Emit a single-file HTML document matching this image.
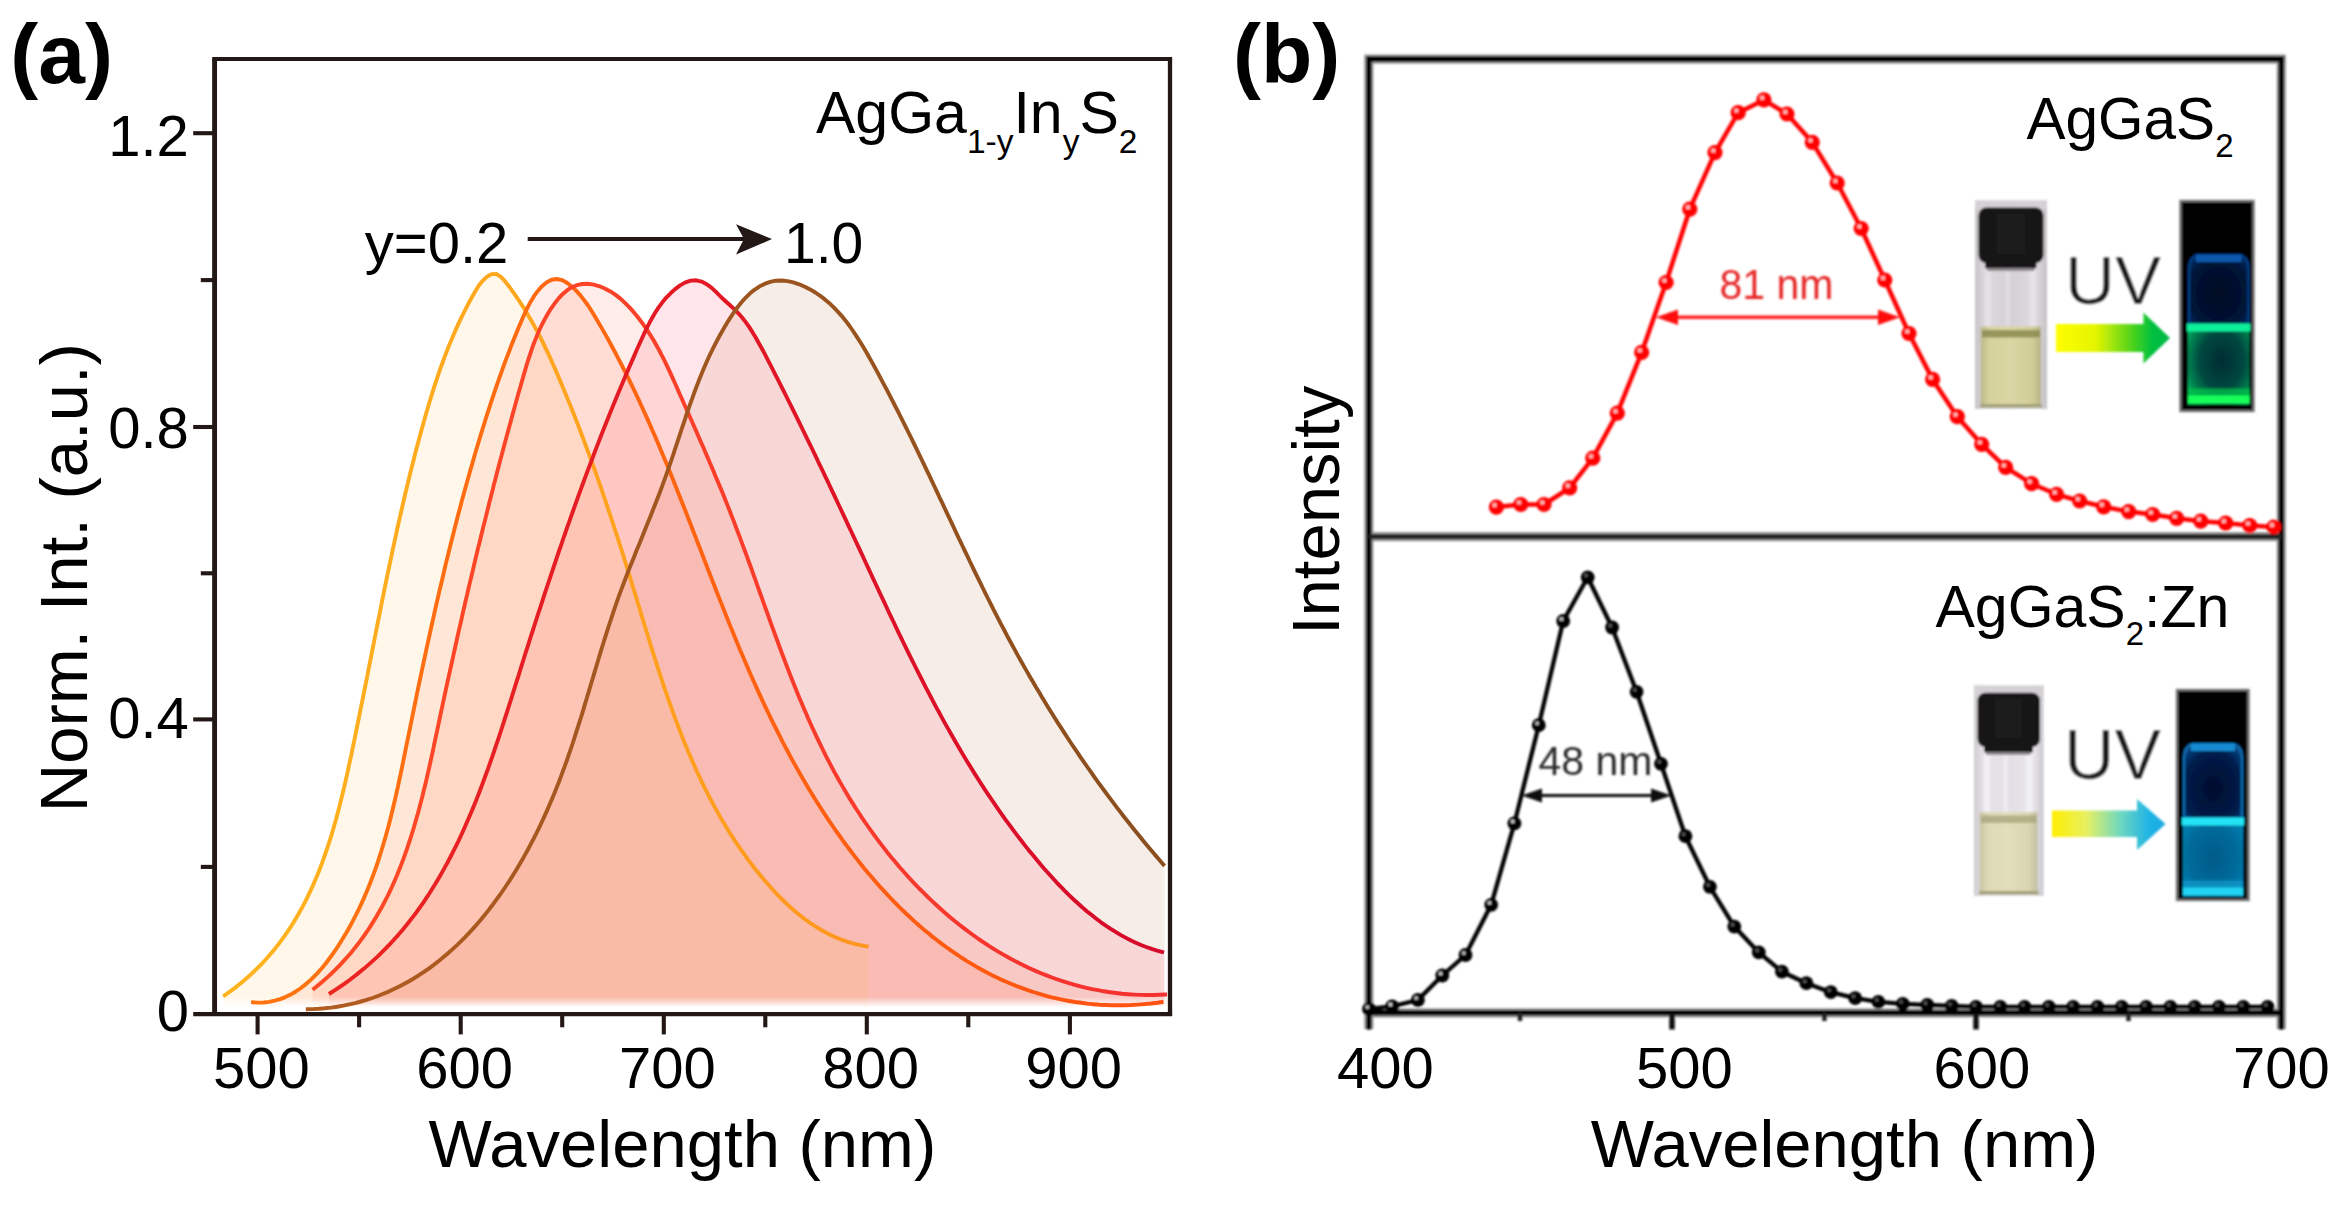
<!DOCTYPE html>
<html lang="en">
<head>
<meta charset="utf-8">
<title>Figure: PL spectra of AgGa(1-y)In(y)S2 and AgGaS2:Zn</title>
<style>
html,body{margin:0;padding:0;background:#fff;}
body{width:2352px;height:1205px;overflow:hidden;}
svg{display:block;}
text{font-family:"Liberation Sans", Arial, Helvetica, sans-serif;fill:#000;}
.b{font-weight:bold;}
.tr{fill:#e62828;}
.tk{fill:#2c2c2c;}
.tu{fill:#141414;stroke:#fff;stroke-width:0.5px;}
</style>
</head>
<body>
<svg width="2352" height="1205" viewBox="0 0 2352 1205">
<defs>
<linearGradient id="sg0" gradientUnits="userSpaceOnUse" x1="223" y1="0" x2="869" y2="0"><stop offset="0" stop-color="#FFB41E"/><stop offset="1" stop-color="#FF961E"/></linearGradient>
<linearGradient id="fg0" gradientUnits="userSpaceOnUse" x1="0" y1="250" x2="0" y2="1007"><stop offset="0" stop-color="#FFB73F" stop-opacity="0.109"/><stop offset="0.986" stop-color="#FFB73F" stop-opacity="0.109"/><stop offset="1" stop-color="#FFB73F" stop-opacity="0"/></linearGradient>
<linearGradient id="sg1" gradientUnits="userSpaceOnUse" x1="251" y1="0" x2="1164" y2="0"><stop offset="0" stop-color="#FF7410"/><stop offset="1" stop-color="#FF5212"/></linearGradient>
<linearGradient id="fg1" gradientUnits="userSpaceOnUse" x1="0" y1="250" x2="0" y2="1007"><stop offset="0" stop-color="#FF3000" stop-opacity="0.088"/><stop offset="0.986" stop-color="#FF3000" stop-opacity="0.088"/><stop offset="1" stop-color="#FF3000" stop-opacity="0"/></linearGradient>
<linearGradient id="sg2" gradientUnits="userSpaceOnUse" x1="313" y1="0" x2="1167" y2="0"><stop offset="0" stop-color="#FF4A24"/><stop offset="1" stop-color="#F53030"/></linearGradient>
<linearGradient id="fg2" gradientUnits="userSpaceOnUse" x1="0" y1="250" x2="0" y2="1007"><stop offset="0" stop-color="#FF2C00" stop-opacity="0.086"/><stop offset="0.986" stop-color="#FF2C00" stop-opacity="0.086"/><stop offset="1" stop-color="#FF2C00" stop-opacity="0"/></linearGradient>
<linearGradient id="sg3" gradientUnits="userSpaceOnUse" x1="329" y1="0" x2="1164" y2="0"><stop offset="0" stop-color="#EC2420"/><stop offset="1" stop-color="#D60A2A"/></linearGradient>
<linearGradient id="fg3" gradientUnits="userSpaceOnUse" x1="0" y1="250" x2="0" y2="1007"><stop offset="0" stop-color="#FF778E" stop-opacity="0.187"/><stop offset="0.986" stop-color="#FF778E" stop-opacity="0.187"/><stop offset="1" stop-color="#FF778E" stop-opacity="0"/></linearGradient>
<linearGradient id="sg4" gradientUnits="userSpaceOnUse" x1="306" y1="0" x2="1165" y2="0"><stop offset="0" stop-color="#B25C20"/><stop offset="1" stop-color="#8A4E1E"/></linearGradient>
<linearGradient id="fg4" gradientUnits="userSpaceOnUse" x1="0" y1="250" x2="0" y2="1007"><stop offset="0" stop-color="#D9AD93" stop-opacity="0.219"/><stop offset="0.986" stop-color="#D9AD93" stop-opacity="0.219"/><stop offset="1" stop-color="#D9AD93" stop-opacity="0"/></linearGradient>
<linearGradient id="arrG" x1="0" y1="0" x2="1" y2="0"><stop offset="0" stop-color="#ffff00"/><stop offset="0.35" stop-color="#e4f400"/><stop offset="0.7" stop-color="#40d020"/><stop offset="0.85" stop-color="#00c040"/><stop offset="1" stop-color="#00b848"/></linearGradient>
<linearGradient id="arrC" x1="0" y1="0" x2="1" y2="0"><stop offset="0" stop-color="#ffee00"/><stop offset="0.3" stop-color="#e8f060"/><stop offset="0.6" stop-color="#70d8c0"/><stop offset="0.85" stop-color="#20b4e4"/><stop offset="1" stop-color="#18a8e0"/></linearGradient>
<linearGradient id="glass" x1="0" y1="0" x2="1" y2="0"><stop offset="0" stop-color="#c8c4c8"/><stop offset="0.15" stop-color="#dcd8dc"/><stop offset="0.5" stop-color="#d4d0d6"/><stop offset="0.85" stop-color="#dedade"/><stop offset="1" stop-color="#c4c0c4"/></linearGradient>
<linearGradient id="glass2" x1="0" y1="0" x2="1" y2="0"><stop offset="0" stop-color="#cfcbd0"/><stop offset="0.14" stop-color="#e6e3e8"/><stop offset="0.5" stop-color="#e2dfe5"/><stop offset="0.86" stop-color="#e8e5ea"/><stop offset="1" stop-color="#cac6cc"/></linearGradient>
<linearGradient id="liqY" x1="0" y1="0" x2="1" y2="0"><stop offset="0" stop-color="#bdb98c"/><stop offset="0.15" stop-color="#d6d29c"/><stop offset="0.5" stop-color="#dad6a4"/><stop offset="0.85" stop-color="#d2ce98"/><stop offset="1" stop-color="#b8b488"/></linearGradient>
<linearGradient id="liqY2" x1="0" y1="0" x2="1" y2="0"><stop offset="0" stop-color="#c8c4a4"/><stop offset="0.15" stop-color="#dedab8"/><stop offset="0.5" stop-color="#e2debc"/><stop offset="0.85" stop-color="#dad6b2"/><stop offset="1" stop-color="#c2be9e"/></linearGradient>
<radialGradient id="liqG" cx="0.55" cy="0.45" r="0.65"><stop offset="0" stop-color="#002c34"/><stop offset="0.55" stop-color="#004840"/><stop offset="0.85" stop-color="#008450"/><stop offset="1" stop-color="#00b060"/></radialGradient>
<radialGradient id="liqB" cx="0.5" cy="0.5" r="0.7"><stop offset="0" stop-color="#005a88"/><stop offset="0.6" stop-color="#006c9c"/><stop offset="1" stop-color="#0088b8"/></radialGradient>
<radialGradient id="topB" cx="0.5" cy="0.55" r="0.7"><stop offset="0" stop-color="#010820"/><stop offset="0.7" stop-color="#021438"/><stop offset="1" stop-color="#063068"/></radialGradient>
<radialGradient id="topB2" cx="0.5" cy="0.6" r="0.7"><stop offset="0" stop-color="#020c2c"/><stop offset="0.7" stop-color="#031c4c"/><stop offset="1" stop-color="#084888"/></radialGradient>
<filter id="soft" x="-2%" y="-2%" width="104%" height="104%"><feGaussianBlur stdDeviation="0.8"/></filter>
<filter id="soft2" x="-5%" y="-5%" width="110%" height="110%"><feGaussianBlur stdDeviation="1.3"/></filter>
<clipPath id="clipA"><rect x="216.7" y="61" width="951.2" height="951"/></clipPath>
</defs>
<rect x="0" y="0" width="2352" height="1205" fill="#ffffff"/>
<g id="panel-a">
<g clip-path="url(#clipA)">
<path d="M305.8,1009.3 L312.3,1009.1 L318.7,1008.8 L324.9,1008.3 L331.1,1007.6 L337.3,1006.7 L343.3,1005.7 L349.3,1004.4 L355.1,1003.1 L360.9,1001.5 L366.6,999.8 L372.3,998.0 L377.8,996.0 L383.3,993.8 L388.7,991.6 L394.0,989.1 L399.2,986.5 L404.4,983.8 L409.5,981.0 L414.5,978.0 L419.4,974.9 L424.3,971.7 L429.1,968.3 L433.8,964.9 L438.4,961.3 L442.9,957.6 L447.4,953.8 L451.8,949.9 L456.2,945.9 L460.4,941.8 L464.6,937.6 L468.7,933.3 L472.8,928.9 L476.7,924.5 L480.6,919.9 L484.5,915.3 L488.2,910.6 L491.9,905.8 L495.5,900.9 L499.1,896.0 L502.6,891.0 L506.0,886.0 L509.4,880.9 L512.6,875.7 L515.9,870.5 L519.0,865.2 L522.1,859.9 L525.1,854.6 L528.1,849.2 L531.0,843.7 L533.8,838.3 L536.6,832.8 L539.3,827.3 L541.9,821.7 L544.5,816.2 L547.0,810.6 L549.4,805.0 L551.8,799.4 L554.2,793.8 L556.4,788.1 L558.7,782.5 L560.8,776.9 L562.9,771.2 L565.0,765.6 L567.0,760.0 L568.9,754.3 L570.9,748.7 L572.8,743.0 L574.6,737.4 L576.4,731.7 L578.2,726.1 L580.0,720.4 L581.8,714.8 L583.5,709.1 L585.2,703.4 L586.9,697.8 L588.6,692.1 L590.3,686.4 L592.0,680.7 L593.7,675.1 L595.4,669.4 L597.1,663.7 L598.8,658.0 L600.5,652.4 L602.2,646.7 L604.0,641.0 L605.8,635.3 L607.6,629.6 L609.4,624.0 L611.3,618.3 L613.2,612.6 L615.1,606.9 L617.1,601.2 L619.1,595.5 L621.2,589.8 L623.3,584.2 L625.5,578.5 L627.7,572.8 L629.9,567.1 L632.2,561.4 L634.5,555.7 L636.7,550.0 L639.1,544.4 L641.4,538.7 L643.7,533.0 L646.0,527.3 L648.3,521.6 L650.6,515.9 L652.8,510.3 L655.1,504.6 L657.3,498.9 L659.5,493.2 L661.6,487.6 L663.7,481.9 L665.8,476.2 L667.8,470.5 L669.7,464.9 L671.7,459.2 L673.6,453.6 L675.4,447.9 L677.3,442.3 L679.2,436.6 L681.0,431.0 L682.9,425.4 L684.8,419.8 L686.6,414.2 L688.6,408.7 L690.5,403.1 L692.5,397.6 L694.5,392.0 L696.6,386.5 L698.7,381.0 L700.9,375.6 L703.1,370.1 L705.4,364.7 L707.8,359.3 L710.3,353.9 L712.9,348.6 L715.6,343.3 L718.4,338.0 L721.3,332.7 L724.3,327.5 L727.4,322.3 L730.7,317.1 L734.1,312.0 L737.7,307.0 L741.5,302.3 L745.5,297.8 L749.8,293.6 L754.4,289.8 L759.3,286.6 L764.5,283.9 L770.1,281.9 L775.8,280.7 L781.6,280.5 L787.5,281.1 L793.4,282.4 L799.2,284.3 L804.8,286.7 L810.2,289.4 L815.3,292.5 L820.2,295.8 L824.9,299.4 L829.4,303.2 L833.7,307.3 L837.8,311.6 L841.8,316.1 L845.6,320.7 L849.2,325.5 L852.7,330.5 L856.1,335.6 L859.4,340.7 L862.7,346.0 L865.8,351.3 L868.9,356.7 L871.9,362.1 L874.9,367.5 L877.8,372.9 L880.7,378.4 L883.6,383.8 L886.5,389.2 L889.3,394.6 L892.1,400.0 L894.9,405.5 L897.7,410.9 L900.4,416.3 L903.1,421.7 L905.8,427.1 L908.5,432.5 L911.2,437.9 L913.8,443.3 L916.4,448.7 L919.0,454.1 L921.6,459.5 L924.2,464.9 L926.8,470.3 L929.4,475.7 L931.9,481.1 L934.5,486.5 L937.0,491.9 L939.5,497.3 L942.1,502.6 L944.6,508.0 L947.1,513.4 L949.6,518.7 L952.2,524.1 L954.7,529.5 L957.2,534.8 L959.7,540.2 L962.3,545.5 L964.8,550.8 L967.4,556.1 L969.9,561.5 L972.5,566.8 L975.0,572.1 L977.6,577.4 L980.2,582.7 L982.8,588.0 L985.4,593.3 L988.0,598.5 L990.7,603.8 L993.3,609.1 L996.0,614.3 L998.7,619.6 L1001.4,624.8 L1004.2,630.0 L1006.9,635.3 L1009.7,640.5 L1012.5,645.7 L1015.4,650.9 L1018.2,656.1 L1021.1,661.2 L1024.0,666.4 L1027.0,671.6 L1029.9,676.7 L1032.9,681.8 L1035.9,687.0 L1039.0,692.1 L1042.0,697.2 L1045.1,702.3 L1048.2,707.4 L1051.4,712.5 L1054.5,717.5 L1057.7,722.6 L1061.0,727.6 L1064.2,732.6 L1067.5,737.7 L1070.8,742.7 L1074.1,747.7 L1077.5,752.6 L1080.8,757.6 L1084.3,762.6 L1087.7,767.5 L1091.2,772.4 L1094.6,777.3 L1098.2,782.3 L1101.7,787.1 L1105.3,792.0 L1108.9,796.9 L1112.5,801.7 L1116.2,806.6 L1119.9,811.4 L1123.6,816.2 L1127.4,821.0 L1131.1,825.7 L1134.9,830.5 L1138.8,835.2 L1142.6,840.0 L1146.5,844.7 L1150.5,849.4 L1154.4,854.1 L1158.4,858.7 L1162.4,863.4 L1164.6,865.9 L1164.6,1008.5 L305.8,1008.5 Z" fill="url(#fg4)" stroke="none"/>
<path d="M328.9,994.0 L334.2,990.6 L339.5,987.1 L344.6,983.6 L349.6,980.0 L354.5,976.2 L359.3,972.4 L364.0,968.6 L368.6,964.6 L373.1,960.6 L377.5,956.6 L381.8,952.4 L386.0,948.2 L390.1,943.9 L394.1,939.5 L398.1,935.1 L401.9,930.7 L405.7,926.1 L409.3,921.5 L412.9,916.9 L416.5,912.2 L419.9,907.4 L423.3,902.6 L426.6,897.7 L429.8,892.8 L432.9,887.8 L436.0,882.8 L439.0,877.7 L441.9,872.6 L444.8,867.4 L447.7,862.2 L450.4,857.0 L453.1,851.7 L455.8,846.4 L458.4,841.1 L460.9,835.7 L463.4,830.2 L465.8,824.8 L468.2,819.3 L470.6,813.8 L472.9,808.2 L475.2,802.7 L477.4,797.1 L479.6,791.5 L481.7,785.8 L483.8,780.2 L485.9,774.5 L488.0,768.8 L490.0,763.1 L492.0,757.3 L494.0,751.6 L495.9,745.8 L497.9,740.1 L499.8,734.3 L501.7,728.5 L503.6,722.7 L505.4,716.9 L507.3,711.1 L509.1,705.3 L511.0,699.5 L512.8,693.7 L514.6,687.9 L516.4,682.1 L518.3,676.3 L520.1,670.5 L521.9,664.7 L523.7,659.0 L525.5,653.2 L527.4,647.4 L529.2,641.7 L531.0,635.9 L532.9,630.2 L534.7,624.5 L536.6,618.7 L538.4,613.0 L540.3,607.3 L542.2,601.6 L544.0,595.9 L545.9,590.2 L547.8,584.5 L549.7,578.8 L551.6,573.1 L553.5,567.5 L555.4,561.8 L557.3,556.1 L559.2,550.5 L561.2,544.8 L563.1,539.2 L565.1,533.5 L567.0,527.9 L569.0,522.3 L571.0,516.6 L573.0,511.0 L575.0,505.4 L577.0,499.8 L579.0,494.2 L581.1,488.6 L583.1,483.0 L585.2,477.4 L587.3,471.8 L589.4,466.2 L591.5,460.7 L593.6,455.1 L595.7,449.5 L597.9,443.9 L600.0,438.4 L602.2,432.8 L604.4,427.3 L606.6,421.7 L608.8,416.2 L611.1,410.6 L613.3,405.1 L615.6,399.5 L617.9,394.0 L620.2,388.5 L622.5,382.9 L624.8,377.4 L627.2,371.9 L629.6,366.4 L632.0,360.9 L634.4,355.4 L636.8,349.8 L639.3,344.3 L641.8,338.8 L644.3,333.3 L646.9,327.9 L649.6,322.5 L652.5,317.3 L655.5,312.1 L658.8,307.1 L662.4,302.3 L666.3,297.6 L670.5,293.3 L675.1,289.1 L680.1,285.4 L685.4,282.4 L690.8,280.6 L696.2,280.3 L701.6,281.6 L706.8,284.3 L711.7,287.9 L716.2,292.1 L720.5,296.5 L725.0,300.7 L729.5,304.8 L734.0,308.9 L738.2,313.1 L742.1,317.5 L745.7,322.1 L749.1,326.9 L752.3,331.9 L755.4,337.0 L758.3,342.2 L761.3,347.5 L764.2,352.9 L767.0,358.3 L769.9,363.8 L772.7,369.3 L775.4,374.8 L778.2,380.2 L780.9,385.7 L783.7,391.1 L786.4,396.5 L789.1,402.0 L791.8,407.4 L794.5,412.8 L797.1,418.2 L799.8,423.6 L802.4,429.0 L805.0,434.4 L807.7,439.8 L810.3,445.1 L812.9,450.5 L815.5,455.9 L818.0,461.3 L820.6,466.6 L823.2,472.0 L825.7,477.4 L828.3,482.7 L830.8,488.1 L833.3,493.4 L835.9,498.8 L838.4,504.2 L840.9,509.5 L843.4,514.9 L845.9,520.2 L848.4,525.6 L851.0,531.0 L853.5,536.3 L856.0,541.7 L858.5,547.1 L861.0,552.4 L863.5,557.8 L866.0,563.2 L868.5,568.6 L871.0,574.0 L873.5,579.3 L876.0,584.7 L878.5,590.1 L881.0,595.5 L883.6,600.9 L886.1,606.3 L888.6,611.7 L891.2,617.1 L893.8,622.5 L896.3,627.9 L898.9,633.3 L901.5,638.6 L904.1,644.0 L906.7,649.4 L909.4,654.8 L912.0,660.1 L914.7,665.5 L917.4,670.8 L920.1,676.2 L922.8,681.5 L925.5,686.8 L928.3,692.2 L931.1,697.5 L933.9,702.8 L936.7,708.1 L939.6,713.3 L942.4,718.6 L945.3,723.9 L948.3,729.1 L951.2,734.3 L954.2,739.5 L957.2,744.7 L960.3,749.9 L963.3,755.1 L966.4,760.3 L969.6,765.4 L972.7,770.5 L975.9,775.6 L979.2,780.7 L982.4,785.8 L985.7,790.9 L989.1,795.9 L992.5,800.9 L995.9,805.9 L999.3,810.9 L1002.8,815.8 L1006.4,820.8 L1010.0,825.7 L1013.6,830.6 L1017.2,835.4 L1021.0,840.3 L1024.7,845.1 L1028.5,849.9 L1032.4,854.6 L1036.3,859.3 L1040.2,864.0 L1044.2,868.7 L1048.3,873.3 L1052.4,877.8 L1056.5,882.3 L1060.7,886.7 L1065.0,891.1 L1069.3,895.3 L1073.6,899.5 L1078.1,903.5 L1082.5,907.5 L1087.1,911.4 L1091.7,915.1 L1096.3,918.7 L1101.0,922.3 L1105.8,925.6 L1110.7,928.8 L1115.6,931.9 L1120.5,934.9 L1125.5,937.6 L1130.6,940.3 L1135.8,942.7 L1141.0,945.0 L1146.3,947.0 L1151.7,948.9 L1157.1,950.6 L1162.6,952.1 L1164.0,952.5 L1164.0,1008.5 L328.9,1008.5 Z" fill="url(#fg3)" stroke="none"/>
<path d="M312.6,989.7 L317.5,985.8 L322.3,981.8 L327.0,977.6 L331.5,973.5 L335.9,969.2 L340.1,964.9 L344.2,960.4 L348.2,956.0 L352.1,951.4 L355.8,946.8 L359.4,942.1 L362.9,937.3 L366.3,932.5 L369.6,927.6 L372.7,922.6 L375.8,917.6 L378.7,912.6 L381.6,907.5 L384.3,902.3 L387.0,897.1 L389.6,891.8 L392.1,886.5 L394.5,881.1 L396.8,875.7 L399.0,870.2 L401.2,864.7 L403.3,859.2 L405.3,853.6 L407.3,848.0 L409.1,842.3 L411.0,836.7 L412.8,831.0 L414.5,825.2 L416.1,819.5 L417.8,813.7 L419.3,807.9 L420.9,802.0 L422.4,796.2 L423.8,790.3 L425.3,784.4 L426.7,778.5 L428.0,772.6 L429.4,766.7 L430.7,760.7 L432.0,754.8 L433.3,748.8 L434.5,742.9 L435.8,736.9 L437.1,730.9 L438.3,725.0 L439.6,719.0 L440.8,713.1 L442.1,707.1 L443.4,701.2 L444.6,695.3 L445.9,689.3 L447.2,683.4 L448.5,677.5 L449.8,671.6 L451.1,665.7 L452.4,659.8 L453.7,653.9 L455.0,648.0 L456.3,642.1 L457.6,636.2 L458.9,630.3 L460.3,624.4 L461.6,618.6 L462.9,612.7 L464.3,606.8 L465.6,601.0 L467.0,595.1 L468.3,589.3 L469.7,583.4 L471.1,577.6 L472.5,571.8 L473.8,565.9 L475.2,560.1 L476.6,554.3 L478.0,548.4 L479.5,542.6 L480.9,536.8 L482.3,531.0 L483.7,525.2 L485.2,519.4 L486.6,513.6 L488.1,507.8 L489.5,502.0 L491.0,496.2 L492.5,490.4 L493.9,484.6 L495.4,478.9 L496.9,473.1 L498.4,467.3 L499.9,461.5 L501.5,455.8 L503.0,450.0 L504.5,444.2 L506.1,438.5 L507.6,432.7 L509.2,427.0 L510.8,421.2 L512.3,415.5 L513.9,409.7 L515.5,404.0 L517.1,398.2 L518.7,392.5 L520.4,386.8 L522.0,381.0 L523.6,375.3 L525.3,369.6 L527.0,363.8 L528.8,358.1 L530.7,352.5 L532.6,346.8 L534.7,341.2 L537.0,335.6 L539.4,330.0 L542.0,324.5 L544.8,319.1 L547.8,313.8 L551.0,308.6 L554.6,303.5 L558.4,298.6 L562.5,294.2 L566.9,290.4 L571.6,287.4 L576.8,285.2 L582.2,284.0 L588.0,283.8 L593.8,284.6 L599.6,286.3 L605.3,288.7 L610.8,291.7 L615.9,295.1 L620.7,298.9 L625.2,303.1 L629.5,307.4 L633.5,311.9 L637.3,316.5 L640.9,321.2 L644.3,325.9 L647.6,330.7 L650.7,335.6 L653.7,340.5 L656.5,345.5 L659.3,350.5 L661.9,355.6 L664.5,360.7 L667.0,365.9 L669.5,371.1 L671.9,376.4 L674.3,381.7 L676.7,387.0 L679.0,392.4 L681.4,397.8 L683.8,403.2 L686.3,408.7 L688.7,414.2 L691.2,419.8 L693.6,425.3 L696.1,430.9 L698.5,436.5 L701.0,442.2 L703.5,447.8 L705.9,453.5 L708.4,459.2 L710.8,464.9 L713.2,470.6 L715.6,476.4 L718.0,482.1 L720.4,487.8 L722.8,493.6 L725.1,499.3 L727.4,505.1 L729.7,510.8 L731.9,516.6 L734.2,522.3 L736.3,528.1 L738.5,533.8 L740.7,539.6 L742.8,545.3 L744.9,551.0 L747.0,556.7 L749.1,562.5 L751.2,568.2 L753.2,573.9 L755.3,579.6 L757.3,585.3 L759.3,591.0 L761.4,596.7 L763.4,602.3 L765.4,608.0 L767.5,613.7 L769.5,619.3 L771.5,624.9 L773.6,630.6 L775.6,636.2 L777.7,641.8 L779.7,647.4 L781.8,653.0 L783.9,658.5 L786.0,664.1 L788.2,669.7 L790.3,675.2 L792.5,680.7 L794.7,686.2 L796.9,691.7 L799.1,697.2 L801.4,702.6 L803.7,708.1 L806.1,713.5 L808.4,718.9 L810.8,724.3 L813.3,729.7 L815.8,735.1 L818.3,740.4 L820.9,745.7 L823.5,751.0 L826.1,756.3 L828.9,761.6 L831.6,766.8 L834.4,772.1 L837.3,777.3 L840.2,782.4 L843.2,787.6 L846.2,792.7 L849.3,797.9 L852.4,802.9 L855.6,808.0 L858.9,813.0 L862.2,818.1 L865.6,823.0 L869.1,828.0 L872.6,832.9 L876.2,837.8 L879.8,842.6 L883.5,847.4 L887.2,852.2 L891.0,856.9 L894.9,861.5 L898.8,866.2 L902.8,870.7 L906.8,875.2 L910.9,879.7 L915.0,884.1 L919.2,888.5 L923.5,892.7 L927.8,897.0 L932.1,901.1 L936.6,905.3 L941.0,909.3 L945.5,913.3 L950.1,917.2 L954.7,921.0 L959.4,924.7 L964.1,928.4 L968.9,932.0 L973.7,935.5 L978.6,939.0 L983.6,942.3 L988.5,945.6 L993.6,948.8 L998.6,951.9 L1003.8,954.9 L1008.9,957.8 L1014.2,960.6 L1019.4,963.3 L1024.8,965.9 L1030.1,968.5 L1035.5,970.9 L1041.0,973.2 L1046.5,975.4 L1052.0,977.5 L1057.6,979.5 L1063.3,981.4 L1069.0,983.2 L1074.7,984.8 L1080.5,986.4 L1086.3,987.8 L1092.1,989.1 L1098.0,990.2 L1104.0,991.3 L1110.0,992.2 L1116.0,993.0 L1122.1,993.7 L1128.2,994.2 L1134.3,994.6 L1140.5,994.9 L1146.8,995.0 L1153.0,995.0 L1159.4,994.8 L1165.7,994.5 L1167.1,994.5 L1167.1,1008.5 L312.6,1008.5 Z" fill="url(#fg2)" stroke="none"/>
<path d="M251.1,1002.1 L257.3,1002.6 L263.3,1002.5 L269.1,1001.9 L274.7,1000.7 L280.2,999.1 L285.4,997.1 L290.6,994.6 L295.5,991.7 L300.3,988.5 L304.9,984.9 L309.4,981.1 L313.7,976.9 L317.9,972.6 L322.0,968.0 L325.9,963.2 L329.6,958.3 L333.3,953.2 L336.8,948.1 L340.2,942.8 L343.4,937.6 L346.6,932.3 L349.6,927.0 L352.5,921.6 L355.3,916.2 L358.0,910.8 L360.6,905.4 L363.1,899.9 L365.5,894.4 L367.8,888.9 L370.1,883.3 L372.2,877.7 L374.3,872.1 L376.3,866.5 L378.2,860.8 L380.0,855.2 L381.8,849.5 L383.5,843.8 L385.2,838.0 L386.8,832.3 L388.4,826.5 L389.9,820.8 L391.3,815.0 L392.7,809.2 L394.1,803.3 L395.5,797.5 L396.8,791.7 L398.1,785.8 L399.3,780.0 L400.6,774.1 L401.8,768.3 L403.0,762.4 L404.2,756.5 L405.4,750.6 L406.6,744.7 L407.8,738.8 L409.0,733.0 L410.2,727.1 L411.4,721.2 L412.6,715.3 L413.8,709.4 L415.0,703.5 L416.2,697.6 L417.4,691.7 L418.6,685.9 L419.9,680.0 L421.1,674.1 L422.4,668.2 L423.6,662.3 L424.9,656.4 L426.1,650.6 L427.4,644.7 L428.7,638.8 L430.0,632.9 L431.3,627.0 L432.6,621.2 L433.9,615.3 L435.2,609.4 L436.5,603.6 L437.9,597.7 L439.2,591.9 L440.6,586.0 L442.0,580.2 L443.4,574.3 L444.7,568.5 L446.1,562.6 L447.6,556.8 L449.0,551.0 L450.4,545.2 L451.9,539.3 L453.4,533.5 L454.8,527.7 L456.3,521.9 L457.8,516.1 L459.4,510.3 L460.9,504.5 L462.4,498.7 L464.0,493.0 L465.6,487.2 L467.2,481.4 L468.8,475.7 L470.4,469.9 L472.1,464.2 L473.7,458.4 L475.4,452.7 L477.1,447.0 L478.8,441.3 L480.5,435.6 L482.3,429.9 L484.1,424.2 L485.8,418.5 L487.6,412.8 L489.5,407.2 L491.3,401.5 L493.2,395.9 L495.1,390.2 L497.0,384.6 L499.0,379.0 L501.0,373.3 L503.0,367.7 L505.0,362.1 L507.1,356.6 L509.3,351.0 L511.4,345.4 L513.6,339.8 L515.9,334.3 L518.1,328.7 L520.5,323.2 L522.8,317.7 L525.3,312.2 L527.9,306.8 L530.8,301.4 L534.0,296.2 L537.6,291.2 L541.7,286.4 L546.4,282.5 L551.5,279.8 L557.0,279.0 L562.3,280.1 L567.3,283.0 L572.0,286.7 L576.4,290.9 L580.4,295.4 L584.1,300.1 L587.7,305.0 L591.0,310.0 L594.2,315.2 L597.3,320.4 L600.3,325.6 L603.3,330.9 L606.3,336.1 L609.2,341.4 L612.1,346.7 L614.9,352.0 L617.7,357.3 L620.5,362.7 L623.2,368.0 L625.9,373.4 L628.6,378.7 L631.2,384.1 L633.8,389.5 L636.4,394.9 L638.9,400.3 L641.4,405.8 L643.9,411.2 L646.4,416.6 L648.8,422.1 L651.2,427.6 L653.6,433.0 L656.0,438.5 L658.3,444.0 L660.6,449.5 L662.9,455.0 L665.2,460.5 L667.5,466.0 L669.7,471.5 L672.0,477.1 L674.2,482.6 L676.4,488.1 L678.6,493.7 L680.8,499.2 L683.0,504.8 L685.2,510.3 L687.3,515.9 L689.5,521.5 L691.7,527.0 L693.8,532.6 L696.0,538.1 L698.1,543.7 L700.3,549.3 L702.4,554.8 L704.5,560.4 L706.7,566.0 L708.8,571.5 L711.0,577.1 L713.2,582.7 L715.3,588.2 L717.5,593.8 L719.7,599.4 L721.9,604.9 L724.1,610.5 L726.3,616.0 L728.5,621.6 L730.7,627.1 L733.0,632.6 L735.3,638.2 L737.5,643.7 L739.8,649.2 L742.2,654.7 L744.5,660.2 L746.9,665.7 L749.2,671.2 L751.6,676.7 L754.1,682.2 L756.5,687.6 L759.0,693.1 L761.5,698.6 L764.0,704.0 L766.6,709.4 L769.2,714.8 L771.8,720.3 L774.5,725.7 L777.2,731.0 L779.9,736.4 L782.6,741.8 L785.4,747.1 L788.3,752.5 L791.1,757.8 L794.0,763.1 L797.0,768.4 L800.0,773.7 L803.0,779.0 L806.1,784.2 L809.2,789.5 L812.4,794.7 L815.6,799.9 L818.8,805.0 L822.1,810.2 L825.5,815.3 L828.8,820.4 L832.3,825.5 L835.7,830.5 L839.3,835.5 L842.8,840.5 L846.4,845.4 L850.1,850.3 L853.8,855.1 L857.5,859.9 L861.3,864.7 L865.1,869.4 L869.0,874.0 L872.9,878.6 L876.9,883.2 L880.9,887.7 L885.0,892.1 L889.1,896.5 L893.2,900.9 L897.4,905.1 L901.7,909.3 L906.0,913.5 L910.3,917.5 L914.7,921.6 L919.1,925.5 L923.6,929.4 L928.2,933.1 L932.7,936.9 L937.4,940.5 L942.1,944.1 L946.8,947.5 L951.6,950.9 L956.4,954.2 L961.3,957.5 L966.2,960.6 L971.2,963.6 L976.2,966.6 L981.3,969.5 L986.4,972.2 L991.5,974.9 L996.8,977.5 L1002.0,979.9 L1007.4,982.3 L1012.7,984.5 L1018.2,986.7 L1023.6,988.7 L1029.2,990.7 L1034.8,992.5 L1040.4,994.2 L1046.1,995.8 L1051.8,997.3 L1057.6,998.6 L1063.4,999.9 L1069.3,1001.0 L1075.3,1002.0 L1081.3,1002.8 L1087.3,1003.6 L1093.4,1004.2 L1099.6,1004.7 L1105.8,1005.0 L1112.0,1005.2 L1118.3,1005.3 L1124.7,1005.2 L1131.1,1005.0 L1137.6,1004.6 L1144.1,1004.1 L1150.7,1003.5 L1157.4,1002.7 L1163.5,1001.8 L1163.5,1008.5 L251.1,1008.5 Z" fill="url(#fg1)" stroke="none"/>
<path d="M223.2,996.3 L228.4,992.6 L233.6,988.9 L238.5,985.0 L243.4,981.0 L248.0,977.0 L252.5,972.9 L256.9,968.6 L261.2,964.3 L265.3,960.0 L269.2,955.5 L273.1,951.0 L276.8,946.4 L280.4,941.7 L283.9,936.9 L287.2,932.1 L290.5,927.2 L293.6,922.3 L296.6,917.3 L299.5,912.2 L302.3,907.1 L305.1,901.9 L307.7,896.6 L310.2,891.4 L312.7,886.0 L315.0,880.6 L317.3,875.2 L319.5,869.7 L321.6,864.2 L323.6,858.6 L325.6,853.0 L327.5,847.4 L329.4,841.7 L331.2,836.0 L332.9,830.3 L334.5,824.5 L336.2,818.7 L337.7,812.9 L339.3,807.0 L340.7,801.2 L342.2,795.3 L343.6,789.4 L345.0,783.5 L346.3,777.6 L347.7,771.6 L348.9,765.7 L350.2,759.8 L351.5,753.8 L352.7,747.9 L354.0,741.9 L355.2,735.9 L356.4,730.0 L357.6,724.0 L358.8,718.1 L360.0,712.1 L361.2,706.2 L362.4,700.3 L363.6,694.3 L364.8,688.4 L366.0,682.4 L367.2,676.5 L368.3,670.6 L369.5,664.6 L370.7,658.7 L371.8,652.8 L373.0,646.8 L374.2,640.9 L375.3,635.0 L376.5,629.1 L377.7,623.1 L378.9,617.2 L380.1,611.3 L381.2,605.4 L382.4,599.5 L383.6,593.6 L384.8,587.7 L386.0,581.8 L387.2,575.9 L388.5,570.1 L389.7,564.2 L390.9,558.3 L392.2,552.4 L393.4,546.6 L394.7,540.7 L396.0,534.9 L397.2,529.0 L398.5,523.2 L399.9,517.3 L401.2,511.5 L402.5,505.7 L403.9,499.8 L405.2,494.0 L406.6,488.2 L408.0,482.4 L409.4,476.6 L410.8,470.8 L412.3,465.0 L413.8,459.2 L415.2,453.4 L416.7,447.7 L418.3,441.9 L419.8,436.2 L421.4,430.4 L423.0,424.7 L424.6,418.9 L426.2,413.2 L427.9,407.5 L429.6,401.8 L431.3,396.1 L433.1,390.4 L434.9,384.7 L436.8,379.1 L438.7,373.4 L440.6,367.8 L442.7,362.2 L444.7,356.6 L446.9,351.0 L449.1,345.4 L451.4,339.9 L453.7,334.4 L456.1,328.9 L458.6,323.4 L461.2,317.9 L463.9,312.5 L466.6,307.1 L469.5,301.7 L472.4,296.3 L475.5,291.0 L478.7,285.8 L482.3,281.1 L486.5,277.1 L491.4,274.1 L496.4,274.0 L500.9,276.8 L505.0,281.2 L508.9,286.2 L512.6,291.3 L516.1,296.4 L519.6,301.5 L522.9,306.6 L526.1,311.8 L529.2,317.0 L532.2,322.2 L535.1,327.4 L537.9,332.7 L540.6,337.9 L543.2,343.2 L545.8,348.6 L548.3,353.9 L550.8,359.3 L553.2,364.7 L555.6,370.1 L557.9,375.5 L560.2,380.9 L562.5,386.4 L564.8,391.9 L567.0,397.4 L569.3,402.9 L571.5,408.4 L573.7,413.9 L575.9,419.5 L578.1,425.1 L580.2,430.7 L582.3,436.3 L584.4,441.9 L586.5,447.5 L588.6,453.1 L590.7,458.8 L592.7,464.5 L594.8,470.1 L596.8,475.8 L598.8,481.5 L600.8,487.2 L602.7,492.9 L604.7,498.6 L606.6,504.4 L608.5,510.1 L610.5,515.9 L612.4,521.6 L614.2,527.4 L616.1,533.1 L618.0,538.9 L619.8,544.7 L621.7,550.4 L623.5,556.2 L625.3,562.0 L627.1,567.8 L628.9,573.6 L630.7,579.4 L632.4,585.2 L634.2,591.0 L636.0,596.8 L637.7,602.5 L639.5,608.3 L641.2,614.1 L643.0,619.9 L644.7,625.7 L646.5,631.5 L648.3,637.2 L650.0,643.0 L651.8,648.7 L653.6,654.5 L655.4,660.2 L657.2,665.9 L659.1,671.7 L661.0,677.4 L662.8,683.1 L664.7,688.7 L666.7,694.4 L668.6,700.1 L670.6,705.7 L672.6,711.3 L674.6,716.9 L676.7,722.5 L678.8,728.1 L681.0,733.6 L683.1,739.2 L685.4,744.7 L687.6,750.2 L689.9,755.6 L692.3,761.1 L694.7,766.5 L697.1,771.9 L699.6,777.3 L702.1,782.6 L704.7,787.9 L707.4,793.2 L710.1,798.5 L712.9,803.7 L715.7,808.9 L718.6,814.1 L721.5,819.2 L724.6,824.3 L727.7,829.4 L730.8,834.4 L734.0,839.4 L737.3,844.4 L740.7,849.3 L744.2,854.2 L747.7,859.1 L751.3,863.9 L755.0,868.7 L758.8,873.4 L762.6,878.1 L766.6,882.7 L770.6,887.3 L774.7,891.8 L778.9,896.2 L783.2,900.5 L787.6,904.7 L792.1,908.8 L796.7,912.7 L801.4,916.5 L806.2,920.2 L811.1,923.6 L816.2,926.9 L821.3,930.0 L826.5,932.9 L831.8,935.6 L837.3,938.0 L842.9,940.2 L848.5,942.1 L854.3,943.8 L860.3,945.2 L866.3,946.3 L868.6,946.7 L868.6,1008.5 L223.2,1008.5 Z" fill="url(#fg0)" stroke="none"/>
<path d="M223.2,996.3 L228.4,992.6 L233.6,988.9 L238.5,985.0 L243.4,981.0 L248.0,977.0 L252.5,972.9 L256.9,968.6 L261.2,964.3 L265.3,960.0 L269.2,955.5 L273.1,951.0 L276.8,946.4 L280.4,941.7 L283.9,936.9 L287.2,932.1 L290.5,927.2 L293.6,922.3 L296.6,917.3 L299.5,912.2 L302.3,907.1 L305.1,901.9 L307.7,896.6 L310.2,891.4 L312.7,886.0 L315.0,880.6 L317.3,875.2 L319.5,869.7 L321.6,864.2 L323.6,858.6 L325.6,853.0 L327.5,847.4 L329.4,841.7 L331.2,836.0 L332.9,830.3 L334.5,824.5 L336.2,818.7 L337.7,812.9 L339.3,807.0 L340.7,801.2 L342.2,795.3 L343.6,789.4 L345.0,783.5 L346.3,777.6 L347.7,771.6 L348.9,765.7 L350.2,759.8 L351.5,753.8 L352.7,747.9 L354.0,741.9 L355.2,735.9 L356.4,730.0 L357.6,724.0 L358.8,718.1 L360.0,712.1 L361.2,706.2 L362.4,700.3 L363.6,694.3 L364.8,688.4 L366.0,682.4 L367.2,676.5 L368.3,670.6 L369.5,664.6 L370.7,658.7 L371.8,652.8 L373.0,646.8 L374.2,640.9 L375.3,635.0 L376.5,629.1 L377.7,623.1 L378.9,617.2 L380.1,611.3 L381.2,605.4 L382.4,599.5 L383.6,593.6 L384.8,587.7 L386.0,581.8 L387.2,575.9 L388.5,570.1 L389.7,564.2 L390.9,558.3 L392.2,552.4 L393.4,546.6 L394.7,540.7 L396.0,534.9 L397.2,529.0 L398.5,523.2 L399.9,517.3 L401.2,511.5 L402.5,505.7 L403.9,499.8 L405.2,494.0 L406.6,488.2 L408.0,482.4 L409.4,476.6 L410.8,470.8 L412.3,465.0 L413.8,459.2 L415.2,453.4 L416.7,447.7 L418.3,441.9 L419.8,436.2 L421.4,430.4 L423.0,424.7 L424.6,418.9 L426.2,413.2 L427.9,407.5 L429.6,401.8 L431.3,396.1 L433.1,390.4 L434.9,384.7 L436.8,379.1 L438.7,373.4 L440.6,367.8 L442.7,362.2 L444.7,356.6 L446.9,351.0 L449.1,345.4 L451.4,339.9 L453.7,334.4 L456.1,328.9 L458.6,323.4 L461.2,317.9 L463.9,312.5 L466.6,307.1 L469.5,301.7 L472.4,296.3 L475.5,291.0 L478.7,285.8 L482.3,281.1 L486.5,277.1 L491.4,274.1 L496.4,274.0 L500.9,276.8 L505.0,281.2 L508.9,286.2 L512.6,291.3 L516.1,296.4 L519.6,301.5 L522.9,306.6 L526.1,311.8 L529.2,317.0 L532.2,322.2 L535.1,327.4 L537.9,332.7 L540.6,337.9 L543.2,343.2 L545.8,348.6 L548.3,353.9 L550.8,359.3 L553.2,364.7 L555.6,370.1 L557.9,375.5 L560.2,380.9 L562.5,386.4 L564.8,391.9 L567.0,397.4 L569.3,402.9 L571.5,408.4 L573.7,413.9 L575.9,419.5 L578.1,425.1 L580.2,430.7 L582.3,436.3 L584.4,441.9 L586.5,447.5 L588.6,453.1 L590.7,458.8 L592.7,464.5 L594.8,470.1 L596.8,475.8 L598.8,481.5 L600.8,487.2 L602.7,492.9 L604.7,498.6 L606.6,504.4 L608.5,510.1 L610.5,515.9 L612.4,521.6 L614.2,527.4 L616.1,533.1 L618.0,538.9 L619.8,544.7 L621.7,550.4 L623.5,556.2 L625.3,562.0 L627.1,567.8 L628.9,573.6 L630.7,579.4 L632.4,585.2 L634.2,591.0 L636.0,596.8 L637.7,602.5 L639.5,608.3 L641.2,614.1 L643.0,619.9 L644.7,625.7 L646.5,631.5 L648.3,637.2 L650.0,643.0 L651.8,648.7 L653.6,654.5 L655.4,660.2 L657.2,665.9 L659.1,671.7 L661.0,677.4 L662.8,683.1 L664.7,688.7 L666.7,694.4 L668.6,700.1 L670.6,705.7 L672.6,711.3 L674.6,716.9 L676.7,722.5 L678.8,728.1 L681.0,733.6 L683.1,739.2 L685.4,744.7 L687.6,750.2 L689.9,755.6 L692.3,761.1 L694.7,766.5 L697.1,771.9 L699.6,777.3 L702.1,782.6 L704.7,787.9 L707.4,793.2 L710.1,798.5 L712.9,803.7 L715.7,808.9 L718.6,814.1 L721.5,819.2 L724.6,824.3 L727.7,829.4 L730.8,834.4 L734.0,839.4 L737.3,844.4 L740.7,849.3 L744.2,854.2 L747.7,859.1 L751.3,863.9 L755.0,868.7 L758.8,873.4 L762.6,878.1 L766.6,882.7 L770.6,887.3 L774.7,891.8 L778.9,896.2 L783.2,900.5 L787.6,904.7 L792.1,908.8 L796.7,912.7 L801.4,916.5 L806.2,920.2 L811.1,923.6 L816.2,926.9 L821.3,930.0 L826.5,932.9 L831.8,935.6 L837.3,938.0 L842.9,940.2 L848.5,942.1 L854.3,943.8 L860.3,945.2 L866.3,946.3 L868.6,946.7" fill="none" stroke="url(#sg0)" stroke-width="3.9" stroke-linecap="butt" stroke-linejoin="round"/>
<path d="M251.1,1002.1 L257.3,1002.6 L263.3,1002.5 L269.1,1001.9 L274.7,1000.7 L280.2,999.1 L285.4,997.1 L290.6,994.6 L295.5,991.7 L300.3,988.5 L304.9,984.9 L309.4,981.1 L313.7,976.9 L317.9,972.6 L322.0,968.0 L325.9,963.2 L329.6,958.3 L333.3,953.2 L336.8,948.1 L340.2,942.8 L343.4,937.6 L346.6,932.3 L349.6,927.0 L352.5,921.6 L355.3,916.2 L358.0,910.8 L360.6,905.4 L363.1,899.9 L365.5,894.4 L367.8,888.9 L370.1,883.3 L372.2,877.7 L374.3,872.1 L376.3,866.5 L378.2,860.8 L380.0,855.2 L381.8,849.5 L383.5,843.8 L385.2,838.0 L386.8,832.3 L388.4,826.5 L389.9,820.8 L391.3,815.0 L392.7,809.2 L394.1,803.3 L395.5,797.5 L396.8,791.7 L398.1,785.8 L399.3,780.0 L400.6,774.1 L401.8,768.3 L403.0,762.4 L404.2,756.5 L405.4,750.6 L406.6,744.7 L407.8,738.8 L409.0,733.0 L410.2,727.1 L411.4,721.2 L412.6,715.3 L413.8,709.4 L415.0,703.5 L416.2,697.6 L417.4,691.7 L418.6,685.9 L419.9,680.0 L421.1,674.1 L422.4,668.2 L423.6,662.3 L424.9,656.4 L426.1,650.6 L427.4,644.7 L428.7,638.8 L430.0,632.9 L431.3,627.0 L432.6,621.2 L433.9,615.3 L435.2,609.4 L436.5,603.6 L437.9,597.7 L439.2,591.9 L440.6,586.0 L442.0,580.2 L443.4,574.3 L444.7,568.5 L446.1,562.6 L447.6,556.8 L449.0,551.0 L450.4,545.2 L451.9,539.3 L453.4,533.5 L454.8,527.7 L456.3,521.9 L457.8,516.1 L459.4,510.3 L460.9,504.5 L462.4,498.7 L464.0,493.0 L465.6,487.2 L467.2,481.4 L468.8,475.7 L470.4,469.9 L472.1,464.2 L473.7,458.4 L475.4,452.7 L477.1,447.0 L478.8,441.3 L480.5,435.6 L482.3,429.9 L484.1,424.2 L485.8,418.5 L487.6,412.8 L489.5,407.2 L491.3,401.5 L493.2,395.9 L495.1,390.2 L497.0,384.6 L499.0,379.0 L501.0,373.3 L503.0,367.7 L505.0,362.1 L507.1,356.6 L509.3,351.0 L511.4,345.4 L513.6,339.8 L515.9,334.3 L518.1,328.7 L520.5,323.2 L522.8,317.7 L525.3,312.2 L527.9,306.8 L530.8,301.4 L534.0,296.2 L537.6,291.2 L541.7,286.4 L546.4,282.5 L551.5,279.8 L557.0,279.0 L562.3,280.1 L567.3,283.0 L572.0,286.7 L576.4,290.9 L580.4,295.4 L584.1,300.1 L587.7,305.0 L591.0,310.0 L594.2,315.2 L597.3,320.4 L600.3,325.6 L603.3,330.9 L606.3,336.1 L609.2,341.4 L612.1,346.7 L614.9,352.0 L617.7,357.3 L620.5,362.7 L623.2,368.0 L625.9,373.4 L628.6,378.7 L631.2,384.1 L633.8,389.5 L636.4,394.9 L638.9,400.3 L641.4,405.8 L643.9,411.2 L646.4,416.6 L648.8,422.1 L651.2,427.6 L653.6,433.0 L656.0,438.5 L658.3,444.0 L660.6,449.5 L662.9,455.0 L665.2,460.5 L667.5,466.0 L669.7,471.5 L672.0,477.1 L674.2,482.6 L676.4,488.1 L678.6,493.7 L680.8,499.2 L683.0,504.8 L685.2,510.3 L687.3,515.9 L689.5,521.5 L691.7,527.0 L693.8,532.6 L696.0,538.1 L698.1,543.7 L700.3,549.3 L702.4,554.8 L704.5,560.4 L706.7,566.0 L708.8,571.5 L711.0,577.1 L713.2,582.7 L715.3,588.2 L717.5,593.8 L719.7,599.4 L721.9,604.9 L724.1,610.5 L726.3,616.0 L728.5,621.6 L730.7,627.1 L733.0,632.6 L735.3,638.2 L737.5,643.7 L739.8,649.2 L742.2,654.7 L744.5,660.2 L746.9,665.7 L749.2,671.2 L751.6,676.7 L754.1,682.2 L756.5,687.6 L759.0,693.1 L761.5,698.6 L764.0,704.0 L766.6,709.4 L769.2,714.8 L771.8,720.3 L774.5,725.7 L777.2,731.0 L779.9,736.4 L782.6,741.8 L785.4,747.1 L788.3,752.5 L791.1,757.8 L794.0,763.1 L797.0,768.4 L800.0,773.7 L803.0,779.0 L806.1,784.2 L809.2,789.5 L812.4,794.7 L815.6,799.9 L818.8,805.0 L822.1,810.2 L825.5,815.3 L828.8,820.4 L832.3,825.5 L835.7,830.5 L839.3,835.5 L842.8,840.5 L846.4,845.4 L850.1,850.3 L853.8,855.1 L857.5,859.9 L861.3,864.7 L865.1,869.4 L869.0,874.0 L872.9,878.6 L876.9,883.2 L880.9,887.7 L885.0,892.1 L889.1,896.5 L893.2,900.9 L897.4,905.1 L901.7,909.3 L906.0,913.5 L910.3,917.5 L914.7,921.6 L919.1,925.5 L923.6,929.4 L928.2,933.1 L932.7,936.9 L937.4,940.5 L942.1,944.1 L946.8,947.5 L951.6,950.9 L956.4,954.2 L961.3,957.5 L966.2,960.6 L971.2,963.6 L976.2,966.6 L981.3,969.5 L986.4,972.2 L991.5,974.9 L996.8,977.5 L1002.0,979.9 L1007.4,982.3 L1012.7,984.5 L1018.2,986.7 L1023.6,988.7 L1029.2,990.7 L1034.8,992.5 L1040.4,994.2 L1046.1,995.8 L1051.8,997.3 L1057.6,998.6 L1063.4,999.9 L1069.3,1001.0 L1075.3,1002.0 L1081.3,1002.8 L1087.3,1003.6 L1093.4,1004.2 L1099.6,1004.7 L1105.8,1005.0 L1112.0,1005.2 L1118.3,1005.3 L1124.7,1005.2 L1131.1,1005.0 L1137.6,1004.6 L1144.1,1004.1 L1150.7,1003.5 L1157.4,1002.7 L1163.5,1001.8" fill="none" stroke="url(#sg1)" stroke-width="3.9" stroke-linecap="butt" stroke-linejoin="round"/>
<path d="M312.6,989.7 L317.5,985.8 L322.3,981.8 L327.0,977.6 L331.5,973.5 L335.9,969.2 L340.1,964.9 L344.2,960.4 L348.2,956.0 L352.1,951.4 L355.8,946.8 L359.4,942.1 L362.9,937.3 L366.3,932.5 L369.6,927.6 L372.7,922.6 L375.8,917.6 L378.7,912.6 L381.6,907.5 L384.3,902.3 L387.0,897.1 L389.6,891.8 L392.1,886.5 L394.5,881.1 L396.8,875.7 L399.0,870.2 L401.2,864.7 L403.3,859.2 L405.3,853.6 L407.3,848.0 L409.1,842.3 L411.0,836.7 L412.8,831.0 L414.5,825.2 L416.1,819.5 L417.8,813.7 L419.3,807.9 L420.9,802.0 L422.4,796.2 L423.8,790.3 L425.3,784.4 L426.7,778.5 L428.0,772.6 L429.4,766.7 L430.7,760.7 L432.0,754.8 L433.3,748.8 L434.5,742.9 L435.8,736.9 L437.1,730.9 L438.3,725.0 L439.6,719.0 L440.8,713.1 L442.1,707.1 L443.4,701.2 L444.6,695.3 L445.9,689.3 L447.2,683.4 L448.5,677.5 L449.8,671.6 L451.1,665.7 L452.4,659.8 L453.7,653.9 L455.0,648.0 L456.3,642.1 L457.6,636.2 L458.9,630.3 L460.3,624.4 L461.6,618.6 L462.9,612.7 L464.3,606.8 L465.6,601.0 L467.0,595.1 L468.3,589.3 L469.7,583.4 L471.1,577.6 L472.5,571.8 L473.8,565.9 L475.2,560.1 L476.6,554.3 L478.0,548.4 L479.5,542.6 L480.9,536.8 L482.3,531.0 L483.7,525.2 L485.2,519.4 L486.6,513.6 L488.1,507.8 L489.5,502.0 L491.0,496.2 L492.5,490.4 L493.9,484.6 L495.4,478.9 L496.9,473.1 L498.4,467.3 L499.9,461.5 L501.5,455.8 L503.0,450.0 L504.5,444.2 L506.1,438.5 L507.6,432.7 L509.2,427.0 L510.8,421.2 L512.3,415.5 L513.9,409.7 L515.5,404.0 L517.1,398.2 L518.7,392.5 L520.4,386.8 L522.0,381.0 L523.6,375.3 L525.3,369.6 L527.0,363.8 L528.8,358.1 L530.7,352.5 L532.6,346.8 L534.7,341.2 L537.0,335.6 L539.4,330.0 L542.0,324.5 L544.8,319.1 L547.8,313.8 L551.0,308.6 L554.6,303.5 L558.4,298.6 L562.5,294.2 L566.9,290.4 L571.6,287.4 L576.8,285.2 L582.2,284.0 L588.0,283.8 L593.8,284.6 L599.6,286.3 L605.3,288.7 L610.8,291.7 L615.9,295.1 L620.7,298.9 L625.2,303.1 L629.5,307.4 L633.5,311.9 L637.3,316.5 L640.9,321.2 L644.3,325.9 L647.6,330.7 L650.7,335.6 L653.7,340.5 L656.5,345.5 L659.3,350.5 L661.9,355.6 L664.5,360.7 L667.0,365.9 L669.5,371.1 L671.9,376.4 L674.3,381.7 L676.7,387.0 L679.0,392.4 L681.4,397.8 L683.8,403.2 L686.3,408.7 L688.7,414.2 L691.2,419.8 L693.6,425.3 L696.1,430.9 L698.5,436.5 L701.0,442.2 L703.5,447.8 L705.9,453.5 L708.4,459.2 L710.8,464.9 L713.2,470.6 L715.6,476.4 L718.0,482.1 L720.4,487.8 L722.8,493.6 L725.1,499.3 L727.4,505.1 L729.7,510.8 L731.9,516.6 L734.2,522.3 L736.3,528.1 L738.5,533.8 L740.7,539.6 L742.8,545.3 L744.9,551.0 L747.0,556.7 L749.1,562.5 L751.2,568.2 L753.2,573.9 L755.3,579.6 L757.3,585.3 L759.3,591.0 L761.4,596.7 L763.4,602.3 L765.4,608.0 L767.5,613.7 L769.5,619.3 L771.5,624.9 L773.6,630.6 L775.6,636.2 L777.7,641.8 L779.7,647.4 L781.8,653.0 L783.9,658.5 L786.0,664.1 L788.2,669.7 L790.3,675.2 L792.5,680.7 L794.7,686.2 L796.9,691.7 L799.1,697.2 L801.4,702.6 L803.7,708.1 L806.1,713.5 L808.4,718.9 L810.8,724.3 L813.3,729.7 L815.8,735.1 L818.3,740.4 L820.9,745.7 L823.5,751.0 L826.1,756.3 L828.9,761.6 L831.6,766.8 L834.4,772.1 L837.3,777.3 L840.2,782.4 L843.2,787.6 L846.2,792.7 L849.3,797.9 L852.4,802.9 L855.6,808.0 L858.9,813.0 L862.2,818.1 L865.6,823.0 L869.1,828.0 L872.6,832.9 L876.2,837.8 L879.8,842.6 L883.5,847.4 L887.2,852.2 L891.0,856.9 L894.9,861.5 L898.8,866.2 L902.8,870.7 L906.8,875.2 L910.9,879.7 L915.0,884.1 L919.2,888.5 L923.5,892.7 L927.8,897.0 L932.1,901.1 L936.6,905.3 L941.0,909.3 L945.5,913.3 L950.1,917.2 L954.7,921.0 L959.4,924.7 L964.1,928.4 L968.9,932.0 L973.7,935.5 L978.6,939.0 L983.6,942.3 L988.5,945.6 L993.6,948.8 L998.6,951.9 L1003.8,954.9 L1008.9,957.8 L1014.2,960.6 L1019.4,963.3 L1024.8,965.9 L1030.1,968.5 L1035.5,970.9 L1041.0,973.2 L1046.5,975.4 L1052.0,977.5 L1057.6,979.5 L1063.3,981.4 L1069.0,983.2 L1074.7,984.8 L1080.5,986.4 L1086.3,987.8 L1092.1,989.1 L1098.0,990.2 L1104.0,991.3 L1110.0,992.2 L1116.0,993.0 L1122.1,993.7 L1128.2,994.2 L1134.3,994.6 L1140.5,994.9 L1146.8,995.0 L1153.0,995.0 L1159.4,994.8 L1165.7,994.5 L1167.1,994.5" fill="none" stroke="url(#sg2)" stroke-width="3.9" stroke-linecap="butt" stroke-linejoin="round"/>
<path d="M328.9,994.0 L334.2,990.6 L339.5,987.1 L344.6,983.6 L349.6,980.0 L354.5,976.2 L359.3,972.4 L364.0,968.6 L368.6,964.6 L373.1,960.6 L377.5,956.6 L381.8,952.4 L386.0,948.2 L390.1,943.9 L394.1,939.5 L398.1,935.1 L401.9,930.7 L405.7,926.1 L409.3,921.5 L412.9,916.9 L416.5,912.2 L419.9,907.4 L423.3,902.6 L426.6,897.7 L429.8,892.8 L432.9,887.8 L436.0,882.8 L439.0,877.7 L441.9,872.6 L444.8,867.4 L447.7,862.2 L450.4,857.0 L453.1,851.7 L455.8,846.4 L458.4,841.1 L460.9,835.7 L463.4,830.2 L465.8,824.8 L468.2,819.3 L470.6,813.8 L472.9,808.2 L475.2,802.7 L477.4,797.1 L479.6,791.5 L481.7,785.8 L483.8,780.2 L485.9,774.5 L488.0,768.8 L490.0,763.1 L492.0,757.3 L494.0,751.6 L495.9,745.8 L497.9,740.1 L499.8,734.3 L501.7,728.5 L503.6,722.7 L505.4,716.9 L507.3,711.1 L509.1,705.3 L511.0,699.5 L512.8,693.7 L514.6,687.9 L516.4,682.1 L518.3,676.3 L520.1,670.5 L521.9,664.7 L523.7,659.0 L525.5,653.2 L527.4,647.4 L529.2,641.7 L531.0,635.9 L532.9,630.2 L534.7,624.5 L536.6,618.7 L538.4,613.0 L540.3,607.3 L542.2,601.6 L544.0,595.9 L545.9,590.2 L547.8,584.5 L549.7,578.8 L551.6,573.1 L553.5,567.5 L555.4,561.8 L557.3,556.1 L559.2,550.5 L561.2,544.8 L563.1,539.2 L565.1,533.5 L567.0,527.9 L569.0,522.3 L571.0,516.6 L573.0,511.0 L575.0,505.4 L577.0,499.8 L579.0,494.2 L581.1,488.6 L583.1,483.0 L585.2,477.4 L587.3,471.8 L589.4,466.2 L591.5,460.7 L593.6,455.1 L595.7,449.5 L597.9,443.9 L600.0,438.4 L602.2,432.8 L604.4,427.3 L606.6,421.7 L608.8,416.2 L611.1,410.6 L613.3,405.1 L615.6,399.5 L617.9,394.0 L620.2,388.5 L622.5,382.9 L624.8,377.4 L627.2,371.9 L629.6,366.4 L632.0,360.9 L634.4,355.4 L636.8,349.8 L639.3,344.3 L641.8,338.8 L644.3,333.3 L646.9,327.9 L649.6,322.5 L652.5,317.3 L655.5,312.1 L658.8,307.1 L662.4,302.3 L666.3,297.6 L670.5,293.3 L675.1,289.1 L680.1,285.4 L685.4,282.4 L690.8,280.6 L696.2,280.3 L701.6,281.6 L706.8,284.3 L711.7,287.9 L716.2,292.1 L720.5,296.5 L725.0,300.7 L729.5,304.8 L734.0,308.9 L738.2,313.1 L742.1,317.5 L745.7,322.1 L749.1,326.9 L752.3,331.9 L755.4,337.0 L758.3,342.2 L761.3,347.5 L764.2,352.9 L767.0,358.3 L769.9,363.8 L772.7,369.3 L775.4,374.8 L778.2,380.2 L780.9,385.7 L783.7,391.1 L786.4,396.5 L789.1,402.0 L791.8,407.4 L794.5,412.8 L797.1,418.2 L799.8,423.6 L802.4,429.0 L805.0,434.4 L807.7,439.8 L810.3,445.1 L812.9,450.5 L815.5,455.9 L818.0,461.3 L820.6,466.6 L823.2,472.0 L825.7,477.4 L828.3,482.7 L830.8,488.1 L833.3,493.4 L835.9,498.8 L838.4,504.2 L840.9,509.5 L843.4,514.9 L845.9,520.2 L848.4,525.6 L851.0,531.0 L853.5,536.3 L856.0,541.7 L858.5,547.1 L861.0,552.4 L863.5,557.8 L866.0,563.2 L868.5,568.6 L871.0,574.0 L873.5,579.3 L876.0,584.7 L878.5,590.1 L881.0,595.5 L883.6,600.9 L886.1,606.3 L888.6,611.7 L891.2,617.1 L893.8,622.5 L896.3,627.9 L898.9,633.3 L901.5,638.6 L904.1,644.0 L906.7,649.4 L909.4,654.8 L912.0,660.1 L914.7,665.5 L917.4,670.8 L920.1,676.2 L922.8,681.5 L925.5,686.8 L928.3,692.2 L931.1,697.5 L933.9,702.8 L936.7,708.1 L939.6,713.3 L942.4,718.6 L945.3,723.9 L948.3,729.1 L951.2,734.3 L954.2,739.5 L957.2,744.7 L960.3,749.9 L963.3,755.1 L966.4,760.3 L969.6,765.4 L972.7,770.5 L975.9,775.6 L979.2,780.7 L982.4,785.8 L985.7,790.9 L989.1,795.9 L992.5,800.9 L995.9,805.9 L999.3,810.9 L1002.8,815.8 L1006.4,820.8 L1010.0,825.7 L1013.6,830.6 L1017.2,835.4 L1021.0,840.3 L1024.7,845.1 L1028.5,849.9 L1032.4,854.6 L1036.3,859.3 L1040.2,864.0 L1044.2,868.7 L1048.3,873.3 L1052.4,877.8 L1056.5,882.3 L1060.7,886.7 L1065.0,891.1 L1069.3,895.3 L1073.6,899.5 L1078.1,903.5 L1082.5,907.5 L1087.1,911.4 L1091.7,915.1 L1096.3,918.7 L1101.0,922.3 L1105.8,925.6 L1110.7,928.8 L1115.6,931.9 L1120.5,934.9 L1125.5,937.6 L1130.6,940.3 L1135.8,942.7 L1141.0,945.0 L1146.3,947.0 L1151.7,948.9 L1157.1,950.6 L1162.6,952.1 L1164.0,952.5" fill="none" stroke="url(#sg3)" stroke-width="3.9" stroke-linecap="butt" stroke-linejoin="round"/>
<path d="M305.8,1009.3 L312.3,1009.1 L318.7,1008.8 L324.9,1008.3 L331.1,1007.6 L337.3,1006.7 L343.3,1005.7 L349.3,1004.4 L355.1,1003.1 L360.9,1001.5 L366.6,999.8 L372.3,998.0 L377.8,996.0 L383.3,993.8 L388.7,991.6 L394.0,989.1 L399.2,986.5 L404.4,983.8 L409.5,981.0 L414.5,978.0 L419.4,974.9 L424.3,971.7 L429.1,968.3 L433.8,964.9 L438.4,961.3 L442.9,957.6 L447.4,953.8 L451.8,949.9 L456.2,945.9 L460.4,941.8 L464.6,937.6 L468.7,933.3 L472.8,928.9 L476.7,924.5 L480.6,919.9 L484.5,915.3 L488.2,910.6 L491.9,905.8 L495.5,900.9 L499.1,896.0 L502.6,891.0 L506.0,886.0 L509.4,880.9 L512.6,875.7 L515.9,870.5 L519.0,865.2 L522.1,859.9 L525.1,854.6 L528.1,849.2 L531.0,843.7 L533.8,838.3 L536.6,832.8 L539.3,827.3 L541.9,821.7 L544.5,816.2 L547.0,810.6 L549.4,805.0 L551.8,799.4 L554.2,793.8 L556.4,788.1 L558.7,782.5 L560.8,776.9 L562.9,771.2 L565.0,765.6 L567.0,760.0 L568.9,754.3 L570.9,748.7 L572.8,743.0 L574.6,737.4 L576.4,731.7 L578.2,726.1 L580.0,720.4 L581.8,714.8 L583.5,709.1 L585.2,703.4 L586.9,697.8 L588.6,692.1 L590.3,686.4 L592.0,680.7 L593.7,675.1 L595.4,669.4 L597.1,663.7 L598.8,658.0 L600.5,652.4 L602.2,646.7 L604.0,641.0 L605.8,635.3 L607.6,629.6 L609.4,624.0 L611.3,618.3 L613.2,612.6 L615.1,606.9 L617.1,601.2 L619.1,595.5 L621.2,589.8 L623.3,584.2 L625.5,578.5 L627.7,572.8 L629.9,567.1 L632.2,561.4 L634.5,555.7 L636.7,550.0 L639.1,544.4 L641.4,538.7 L643.7,533.0 L646.0,527.3 L648.3,521.6 L650.6,515.9 L652.8,510.3 L655.1,504.6 L657.3,498.9 L659.5,493.2 L661.6,487.6 L663.7,481.9 L665.8,476.2 L667.8,470.5 L669.7,464.9 L671.7,459.2 L673.6,453.6 L675.4,447.9 L677.3,442.3 L679.2,436.6 L681.0,431.0 L682.9,425.4 L684.8,419.8 L686.6,414.2 L688.6,408.7 L690.5,403.1 L692.5,397.6 L694.5,392.0 L696.6,386.5 L698.7,381.0 L700.9,375.6 L703.1,370.1 L705.4,364.7 L707.8,359.3 L710.3,353.9 L712.9,348.6 L715.6,343.3 L718.4,338.0 L721.3,332.7 L724.3,327.5 L727.4,322.3 L730.7,317.1 L734.1,312.0 L737.7,307.0 L741.5,302.3 L745.5,297.8 L749.8,293.6 L754.4,289.8 L759.3,286.6 L764.5,283.9 L770.1,281.9 L775.8,280.7 L781.6,280.5 L787.5,281.1 L793.4,282.4 L799.2,284.3 L804.8,286.7 L810.2,289.4 L815.3,292.5 L820.2,295.8 L824.9,299.4 L829.4,303.2 L833.7,307.3 L837.8,311.6 L841.8,316.1 L845.6,320.7 L849.2,325.5 L852.7,330.5 L856.1,335.6 L859.4,340.7 L862.7,346.0 L865.8,351.3 L868.9,356.7 L871.9,362.1 L874.9,367.5 L877.8,372.9 L880.7,378.4 L883.6,383.8 L886.5,389.2 L889.3,394.6 L892.1,400.0 L894.9,405.5 L897.7,410.9 L900.4,416.3 L903.1,421.7 L905.8,427.1 L908.5,432.5 L911.2,437.9 L913.8,443.3 L916.4,448.7 L919.0,454.1 L921.6,459.5 L924.2,464.9 L926.8,470.3 L929.4,475.7 L931.9,481.1 L934.5,486.5 L937.0,491.9 L939.5,497.3 L942.1,502.6 L944.6,508.0 L947.1,513.4 L949.6,518.7 L952.2,524.1 L954.7,529.5 L957.2,534.8 L959.7,540.2 L962.3,545.5 L964.8,550.8 L967.4,556.1 L969.9,561.5 L972.5,566.8 L975.0,572.1 L977.6,577.4 L980.2,582.7 L982.8,588.0 L985.4,593.3 L988.0,598.5 L990.7,603.8 L993.3,609.1 L996.0,614.3 L998.7,619.6 L1001.4,624.8 L1004.2,630.0 L1006.9,635.3 L1009.7,640.5 L1012.5,645.7 L1015.4,650.9 L1018.2,656.1 L1021.1,661.2 L1024.0,666.4 L1027.0,671.6 L1029.9,676.7 L1032.9,681.8 L1035.9,687.0 L1039.0,692.1 L1042.0,697.2 L1045.1,702.3 L1048.2,707.4 L1051.4,712.5 L1054.5,717.5 L1057.7,722.6 L1061.0,727.6 L1064.2,732.6 L1067.5,737.7 L1070.8,742.7 L1074.1,747.7 L1077.5,752.6 L1080.8,757.6 L1084.3,762.6 L1087.7,767.5 L1091.2,772.4 L1094.6,777.3 L1098.2,782.3 L1101.7,787.1 L1105.3,792.0 L1108.9,796.9 L1112.5,801.7 L1116.2,806.6 L1119.9,811.4 L1123.6,816.2 L1127.4,821.0 L1131.1,825.7 L1134.9,830.5 L1138.8,835.2 L1142.6,840.0 L1146.5,844.7 L1150.5,849.4 L1154.4,854.1 L1158.4,858.7 L1162.4,863.4 L1164.6,865.9" fill="none" stroke="url(#sg4)" stroke-width="3.9" stroke-linecap="butt" stroke-linejoin="round"/>
</g>
<g stroke="#231815" stroke-width="4.1" fill="none" stroke-linecap="butt">
<path d="M212.2,59.0 H1172.1 M193.2,1014.1 H1172.1"/>
<path d="M214.6,59.0 V1016.1" stroke-width="4.9"/>
<path d="M1170.0,59.0 V1016.1" stroke-width="4.3"/>
<line x1="193.2" y1="133.2" x2="214.6" y2="133.2"/>
<line x1="193.2" y1="427.0" x2="214.6" y2="427.0"/>
<line x1="193.2" y1="719.4" x2="214.6" y2="719.4"/>
<line x1="200.8" y1="280.1" x2="214.6" y2="280.1"/>
<line x1="200.8" y1="573.3" x2="214.6" y2="573.3"/>
<line x1="200.8" y1="866.9" x2="214.6" y2="866.9"/>
<line x1="257.6" y1="1014.1" x2="257.6" y2="1034.4"/>
<line x1="460.7" y1="1014.1" x2="460.7" y2="1034.4"/>
<line x1="663.8" y1="1014.1" x2="663.8" y2="1034.4"/>
<line x1="866.8" y1="1014.1" x2="866.8" y2="1034.4"/>
<line x1="1069.9" y1="1014.1" x2="1069.9" y2="1034.4"/>
<line x1="359.1" y1="1014.1" x2="359.1" y2="1027.3"/>
<line x1="562.2" y1="1014.1" x2="562.2" y2="1027.3"/>
<line x1="765.3" y1="1014.1" x2="765.3" y2="1027.3"/>
<line x1="968.3" y1="1014.1" x2="968.3" y2="1027.3"/>
</g>
<text x="188.9" y="156.0" font-size="58" text-anchor="end">1.2</text>
<text x="188.9" y="447.7" font-size="58" text-anchor="end">0.8</text>
<text x="188.9" y="737.7" font-size="58" text-anchor="end">0.4</text>
<text x="188.9" y="1030.6" font-size="58" text-anchor="end">0</text>
<text x="261.4" y="1087.9" font-size="58" text-anchor="middle">500</text>
<text x="464.7" y="1087.9" font-size="58" text-anchor="middle">600</text>
<text x="667.5" y="1087.9" font-size="58" text-anchor="middle">700</text>
<text x="870.6" y="1087.9" font-size="58" text-anchor="middle">800</text>
<text x="1073.7" y="1087.9" font-size="58" text-anchor="middle">900</text>
<text x="682.4" y="1167.3" font-size="67" text-anchor="middle">Wavelength (nm)</text>
<text transform="translate(86.7,577.7) rotate(-90)" font-size="67" text-anchor="middle">Norm. Int. (a.u.)</text>
<text x="10.3" y="83.2" font-size="84" class="b">(a)</text>
<text x="816" y="133.2" font-size="59">AgGa<tspan font-size="33.5" dy="19.7">1-y</tspan><tspan dy="-19.7">In</tspan><tspan font-size="33.5" dy="19.7">y</tspan><tspan dy="-19.7">S</tspan><tspan font-size="33.5" dy="19.7">2</tspan></text>
<text x="364.8" y="263" font-size="58">y=0.2</text>
<text x="784" y="263" font-size="57">1.0</text>
<line x1="527.7" y1="239.1" x2="746" y2="239.1" stroke="#231815" stroke-width="4"/>
<path d="M772,239.1 L736,224.2 L744,239.1 L736,254.6 Z" fill="#231815"/>
</g>
<g id="panel-b">
<g filter="url(#soft)">
<g fill="none" stroke="#9a9a9a" stroke-width="9.2"><path d="M1368.8,1029 V59.2 H2281.3 V1029 M1368.8,1012.8 H2281.3 M1368.8,536.6 H2281.3"/></g>
<g fill="none" stroke="#000" stroke-width="5.6"><path d="M1368.8,1029.5 V59.2 H2281.3 V1029.5"/><path d="M1366.0,59.2 H2284.1000000000004"/><path d="M1368.8,1012.8 H2281.3"/></g>
<path d="M1368.8,536.6 H2281.3" stroke="#222" stroke-width="5.2" fill="none"/>
<line x1="1672" y1="1012.8" x2="1672" y2="1029.5" stroke="#111" stroke-width="5.5"/>
<line x1="1976" y1="1012.8" x2="1976" y2="1029.5" stroke="#111" stroke-width="5.5"/>
<line x1="1520" y1="1012.8" x2="1520" y2="1021" stroke="#222" stroke-width="4.6"/>
<line x1="1824.4" y1="1012.8" x2="1824.4" y2="1021" stroke="#222" stroke-width="4.6"/>
<line x1="2128.5" y1="1012.8" x2="2128.5" y2="1021" stroke="#222" stroke-width="4.6"/>
<path d="M1496.4,507.1 L1520.8,504.5 L1544,504.5 L1569.7,487.8 L1592.8,458.2 L1617.3,413.2 L1641.7,352.4 L1666.1,282.5 L1689.8,209.2 L1715,152.6 L1738.2,112.7 L1763.9,99.9 L1787,114 L1812.3,142.3 L1837.2,183 L1861.2,228.5 L1884.8,280 L1909,333.5 L1932.6,379.4 L1957.3,416.7 L1981.7,444.3 L2005.7,467.4 L2031.6,483.7 L2056.6,494.3 L2079.7,501 L2103.7,506.8 L2128.7,511.6 L2152.7,514.5 L2176.7,518.3 L2200.8,521.2 L2225.7,523.1 L2249.8,525.6 L2273.8,527" fill="none" stroke="#ff0000" stroke-width="4.5" stroke-linejoin="round"/>
<circle cx="1496.4" cy="507.1" r="7.6" fill="#ff0606"/><rect x="1492.8" y="503.3" width="3.6" height="3.6" fill="#ffc4c4"/>
<circle cx="1520.8" cy="504.5" r="7.6" fill="#ff0606"/><rect x="1517.2" y="500.7" width="3.6" height="3.6" fill="#ffc4c4"/>
<circle cx="1544" cy="504.5" r="7.6" fill="#ff0606"/><rect x="1540.4" y="500.7" width="3.6" height="3.6" fill="#ffc4c4"/>
<circle cx="1569.7" cy="487.8" r="7.6" fill="#ff0606"/><rect x="1566.1" y="484.0" width="3.6" height="3.6" fill="#ffc4c4"/>
<circle cx="1592.8" cy="458.2" r="7.6" fill="#ff0606"/><rect x="1589.2" y="454.4" width="3.6" height="3.6" fill="#ffc4c4"/>
<circle cx="1617.3" cy="413.2" r="7.6" fill="#ff0606"/><rect x="1613.7" y="409.4" width="3.6" height="3.6" fill="#ffc4c4"/>
<circle cx="1641.7" cy="352.4" r="7.6" fill="#ff0606"/><rect x="1638.1" y="348.6" width="3.6" height="3.6" fill="#ffc4c4"/>
<circle cx="1666.1" cy="282.5" r="7.6" fill="#ff0606"/><rect x="1662.5" y="278.7" width="3.6" height="3.6" fill="#ffc4c4"/>
<circle cx="1689.8" cy="209.2" r="7.6" fill="#ff0606"/><rect x="1686.2" y="205.4" width="3.6" height="3.6" fill="#ffc4c4"/>
<circle cx="1715" cy="152.6" r="7.6" fill="#ff0606"/><rect x="1711.4" y="148.8" width="3.6" height="3.6" fill="#ffc4c4"/>
<circle cx="1738.2" cy="112.7" r="7.6" fill="#ff0606"/><rect x="1734.6" y="108.9" width="3.6" height="3.6" fill="#ffc4c4"/>
<circle cx="1763.9" cy="99.9" r="7.6" fill="#ff0606"/><rect x="1760.3" y="96.1" width="3.6" height="3.6" fill="#ffc4c4"/>
<circle cx="1787" cy="114" r="7.6" fill="#ff0606"/><rect x="1783.4" y="110.2" width="3.6" height="3.6" fill="#ffc4c4"/>
<circle cx="1812.3" cy="142.3" r="7.6" fill="#ff0606"/><rect x="1808.7" y="138.5" width="3.6" height="3.6" fill="#ffc4c4"/>
<circle cx="1837.2" cy="183" r="7.6" fill="#ff0606"/><rect x="1833.6" y="179.2" width="3.6" height="3.6" fill="#ffc4c4"/>
<circle cx="1861.2" cy="228.5" r="7.6" fill="#ff0606"/><rect x="1857.6" y="224.7" width="3.6" height="3.6" fill="#ffc4c4"/>
<circle cx="1884.8" cy="280" r="7.6" fill="#ff0606"/><rect x="1881.2" y="276.2" width="3.6" height="3.6" fill="#ffc4c4"/>
<circle cx="1909" cy="333.5" r="7.6" fill="#ff0606"/><rect x="1905.4" y="329.7" width="3.6" height="3.6" fill="#ffc4c4"/>
<circle cx="1932.6" cy="379.4" r="7.6" fill="#ff0606"/><rect x="1929.0" y="375.6" width="3.6" height="3.6" fill="#ffc4c4"/>
<circle cx="1957.3" cy="416.7" r="7.6" fill="#ff0606"/><rect x="1953.7" y="412.9" width="3.6" height="3.6" fill="#ffc4c4"/>
<circle cx="1981.7" cy="444.3" r="7.6" fill="#ff0606"/><rect x="1978.1" y="440.5" width="3.6" height="3.6" fill="#ffc4c4"/>
<circle cx="2005.7" cy="467.4" r="7.6" fill="#ff0606"/><rect x="2002.1" y="463.6" width="3.6" height="3.6" fill="#ffc4c4"/>
<circle cx="2031.6" cy="483.7" r="7.6" fill="#ff0606"/><rect x="2028.0" y="479.9" width="3.6" height="3.6" fill="#ffc4c4"/>
<circle cx="2056.6" cy="494.3" r="7.6" fill="#ff0606"/><rect x="2053.0" y="490.5" width="3.6" height="3.6" fill="#ffc4c4"/>
<circle cx="2079.7" cy="501" r="7.6" fill="#ff0606"/><rect x="2076.1" y="497.2" width="3.6" height="3.6" fill="#ffc4c4"/>
<circle cx="2103.7" cy="506.8" r="7.6" fill="#ff0606"/><rect x="2100.1" y="503.0" width="3.6" height="3.6" fill="#ffc4c4"/>
<circle cx="2128.7" cy="511.6" r="7.6" fill="#ff0606"/><rect x="2125.1" y="507.8" width="3.6" height="3.6" fill="#ffc4c4"/>
<circle cx="2152.7" cy="514.5" r="7.6" fill="#ff0606"/><rect x="2149.1" y="510.7" width="3.6" height="3.6" fill="#ffc4c4"/>
<circle cx="2176.7" cy="518.3" r="7.6" fill="#ff0606"/><rect x="2173.1" y="514.5" width="3.6" height="3.6" fill="#ffc4c4"/>
<circle cx="2200.8" cy="521.2" r="7.6" fill="#ff0606"/><rect x="2197.2" y="517.4" width="3.6" height="3.6" fill="#ffc4c4"/>
<circle cx="2225.7" cy="523.1" r="7.6" fill="#ff0606"/><rect x="2222.1" y="519.3" width="3.6" height="3.6" fill="#ffc4c4"/>
<circle cx="2249.8" cy="525.6" r="7.6" fill="#ff0606"/><rect x="2246.2" y="521.8" width="3.6" height="3.6" fill="#ffc4c4"/>
<circle cx="2273.8" cy="527" r="7.6" fill="#ff0606"/><rect x="2270.2" y="523.2" width="3.6" height="3.6" fill="#ffc4c4"/>
<line x1="1668" y1="317.3" x2="1888" y2="317.3" stroke="#ff2020" stroke-width="3.4"/>
<path d="M1656,317.3 L1678,309.5 L1678,325 Z M1900,317.3 L1878,309.5 L1878,325 Z" fill="#ff0a0a"/>
<text x="1776.5" y="299" font-size="43" text-anchor="middle" textLength="114" lengthAdjust="spacingAndGlyphs" class="tr">81 nm</text>
<path d="M1369,1009 L1392.2,1006.4 L1417.9,1000 L1442.3,975.5 L1465.5,955 L1491.2,904.8 L1514.4,823.4 L1538.8,725.2 L1563.2,621 L1587.7,577.3 L1612.1,627.5 L1636.6,691.8 L1661,763.8 L1685.4,836.2 L1709.9,886.8 L1734.3,926.6 L1758.8,952.4 L1781.9,971.7 L1806.4,983.2 L1830.8,992.2 L1855.2,998.2 L1878.4,1001.8 L1902.8,1003.8 L1927.3,1005 L1951.7,1006 L1976.0,1006.8 L2000.3,1006.8 L2024.6,1006.8 L2048.9,1006.8 L2073.2,1006.8 L2097.5,1006.8 L2121.8,1006.8 L2146.1,1006.8 L2170.4,1006.8 L2194.7,1006.8 L2219.0,1006.8 L2243.3,1006.8 L2267.6,1006.8" fill="none" stroke="#000" stroke-width="4.3" stroke-linejoin="round"/>
<circle cx="1369" cy="1009" r="6.9" fill="#060606"/><rect x="1365.8" y="1005.6" width="3" height="3" fill="#d8d8d8"/>
<circle cx="1392.2" cy="1006.4" r="6.9" fill="#060606"/><rect x="1389.0" y="1003.0" width="3" height="3" fill="#d8d8d8"/>
<circle cx="1417.9" cy="1000" r="6.9" fill="#060606"/><rect x="1414.7" y="996.6" width="3" height="3" fill="#d8d8d8"/>
<circle cx="1442.3" cy="975.5" r="6.9" fill="#060606"/><rect x="1439.1" y="972.1" width="3" height="3" fill="#d8d8d8"/>
<circle cx="1465.5" cy="955" r="6.9" fill="#060606"/><rect x="1462.3" y="951.6" width="3" height="3" fill="#d8d8d8"/>
<circle cx="1491.2" cy="904.8" r="6.9" fill="#060606"/><rect x="1488.0" y="901.4" width="3" height="3" fill="#d8d8d8"/>
<circle cx="1514.4" cy="823.4" r="6.9" fill="#060606"/><rect x="1511.2" y="820.0" width="3" height="3" fill="#d8d8d8"/>
<circle cx="1538.8" cy="725.2" r="6.9" fill="#060606"/><rect x="1535.6" y="721.8" width="3" height="3" fill="#d8d8d8"/>
<circle cx="1563.2" cy="621" r="6.9" fill="#060606"/><rect x="1560.0" y="617.6" width="3" height="3" fill="#d8d8d8"/>
<circle cx="1587.7" cy="577.3" r="6.9" fill="#060606"/><rect x="1584.5" y="573.9" width="3" height="3" fill="#5a5a5a"/>
<circle cx="1612.1" cy="627.5" r="6.9" fill="#060606"/><rect x="1608.9" y="624.1" width="3" height="3" fill="#5a5a5a"/>
<circle cx="1636.6" cy="691.8" r="6.9" fill="#060606"/><rect x="1633.4" y="688.4" width="3" height="3" fill="#5a5a5a"/>
<circle cx="1661" cy="763.8" r="6.9" fill="#060606"/><rect x="1657.8" y="760.4" width="3" height="3" fill="#5a5a5a"/>
<circle cx="1685.4" cy="836.2" r="6.9" fill="#060606"/><rect x="1682.2" y="832.8" width="3" height="3" fill="#5a5a5a"/>
<circle cx="1709.9" cy="886.8" r="6.9" fill="#060606"/><rect x="1706.7" y="883.4" width="3" height="3" fill="#5a5a5a"/>
<circle cx="1734.3" cy="926.6" r="6.9" fill="#060606"/><rect x="1731.1" y="923.2" width="3" height="3" fill="#5a5a5a"/>
<circle cx="1758.8" cy="952.4" r="6.9" fill="#060606"/><rect x="1755.6" y="949.0" width="3" height="3" fill="#5a5a5a"/>
<circle cx="1781.9" cy="971.7" r="6.9" fill="#060606"/><rect x="1778.7" y="968.3" width="3" height="3" fill="#5a5a5a"/>
<circle cx="1806.4" cy="983.2" r="6.9" fill="#060606"/><rect x="1803.2" y="979.8" width="3" height="3" fill="#5a5a5a"/>
<circle cx="1830.8" cy="992.2" r="6.9" fill="#060606"/><rect x="1827.6" y="988.8" width="3" height="3" fill="#5a5a5a"/>
<circle cx="1855.2" cy="998.2" r="6.9" fill="#060606"/><rect x="1852.0" y="994.8" width="3" height="3" fill="#5a5a5a"/>
<circle cx="1878.4" cy="1001.8" r="6.9" fill="#060606"/><rect x="1875.2" y="998.4" width="3" height="3" fill="#5a5a5a"/>
<circle cx="1902.8" cy="1003.8" r="6.9" fill="#060606"/><rect x="1899.6" y="1000.4" width="3" height="3" fill="#5a5a5a"/>
<circle cx="1927.3" cy="1005" r="6.9" fill="#060606"/><rect x="1924.1" y="1001.6" width="3" height="3" fill="#5a5a5a"/>
<circle cx="1951.7" cy="1006" r="6.9" fill="#060606"/><rect x="1948.5" y="1002.6" width="3" height="3" fill="#5a5a5a"/>
<circle cx="1976.0" cy="1006.8" r="6.9" fill="#060606"/><rect x="1972.8" y="1003.4" width="3" height="3" fill="#5a5a5a"/>
<circle cx="2000.3" cy="1006.8" r="6.9" fill="#060606"/><rect x="1997.1" y="1003.4" width="3" height="3" fill="#5a5a5a"/>
<circle cx="2024.6" cy="1006.8" r="6.9" fill="#060606"/><rect x="2021.4" y="1003.4" width="3" height="3" fill="#5a5a5a"/>
<circle cx="2048.9" cy="1006.8" r="6.9" fill="#060606"/><rect x="2045.7" y="1003.4" width="3" height="3" fill="#5a5a5a"/>
<circle cx="2073.2" cy="1006.8" r="6.9" fill="#060606"/><rect x="2070.0" y="1003.4" width="3" height="3" fill="#5a5a5a"/>
<circle cx="2097.5" cy="1006.8" r="6.9" fill="#060606"/><rect x="2094.3" y="1003.4" width="3" height="3" fill="#5a5a5a"/>
<circle cx="2121.8" cy="1006.8" r="6.9" fill="#060606"/><rect x="2118.6" y="1003.4" width="3" height="3" fill="#5a5a5a"/>
<circle cx="2146.1" cy="1006.8" r="6.9" fill="#060606"/><rect x="2142.9" y="1003.4" width="3" height="3" fill="#5a5a5a"/>
<circle cx="2170.4" cy="1006.8" r="6.9" fill="#060606"/><rect x="2167.2" y="1003.4" width="3" height="3" fill="#5a5a5a"/>
<circle cx="2194.7" cy="1006.8" r="6.9" fill="#060606"/><rect x="2191.5" y="1003.4" width="3" height="3" fill="#5a5a5a"/>
<circle cx="2219.0" cy="1006.8" r="6.9" fill="#060606"/><rect x="2215.8" y="1003.4" width="3" height="3" fill="#5a5a5a"/>
<circle cx="2243.3" cy="1006.8" r="6.9" fill="#060606"/><rect x="2240.1" y="1003.4" width="3" height="3" fill="#5a5a5a"/>
<circle cx="2267.6" cy="1006.8" r="6.9" fill="#060606"/><rect x="2264.4" y="1003.4" width="3" height="3" fill="#5a5a5a"/>
<line x1="1530" y1="795.5" x2="1664" y2="795.5" stroke="#111" stroke-width="3.2"/>
<path d="M1521.5,795.5 L1542,788.5 L1542,802.5 Z M1671.5,795.5 L1651,788.5 L1651,802.5 Z" fill="#0a0a0a"/>
<text x="1595.4" y="774.6" font-size="41" text-anchor="middle" textLength="114" lengthAdjust="spacingAndGlyphs" class="tk">48 nm</text>
</g>
<g filter="url(#soft2)">
<rect x="1975" y="200.5" width="72" height="208.5" fill="url(#glass)"/>
<rect x="1975" y="200.5" width="72" height="9.0" fill="#d4d0d4"/>
<rect x="1985" y="269" width="6" height="57.5" fill="#e8e4ea" opacity="0.8"/>
<rect x="2005.2" y="269" width="5" height="57.5" fill="#e8e4ea" opacity="0.55"/>
<rect x="2029" y="269" width="7" height="57.5" fill="#e8e4ea" opacity="0.8"/>
<rect x="1980.5" y="326.5" width="60.5" height="81.0" fill="url(#liqY)"/>
<rect x="1982" y="330.0" width="58" height="7.5" fill="#8e8e54" opacity="0.9"/>
<rect x="1980" y="404" width="62" height="3.5" fill="#a4a07a"/>
<rect x="1978.5" y="207.5" width="65" height="55.5" rx="8" ry="8" fill="#141414"/>
<rect x="1996.6" y="213.5" width="28.8" height="41.5" fill="#2c2c2c" opacity="0.4"/>
<rect x="1985" y="254" width="51.5" height="15" rx="3" fill="#181818"/>
<rect x="1987" y="268" width="47" height="3" fill="#8a868a"/>
<rect x="2180.5" y="201" width="73.0" height="210" fill="#000" stroke="#747474" stroke-width="2.4"/>
<path d="M2189,324.5 V269 Q2189,257 2198,255 H2239.5 Q2248.5,257 2248.5,269 V324.5 Z" fill="url(#topB)" stroke="#063c84" stroke-width="2.4"/>
<path d="M2196,258.5 H2241.5" stroke="#0c5cb4" stroke-width="7" opacity="0.95"/>
<rect x="2188" y="324.5" width="61.5" height="80.0" fill="url(#liqG)"/>
<rect x="2187" y="323.5" width="63.5" height="8" fill="#10f09a"/>
<rect x="2188" y="388.5" width="61.5" height="8" fill="#00c048" opacity="0.75"/>
<rect x="2188" y="395.5" width="61.5" height="8" fill="#16ff58"/>
<path d="M2056,324 H2143.4 V312.5 L2170,338 L2143.4,363.6 V352 H2056 Z" fill="url(#arrG)"/>
<text x="2065" y="304.4" font-size="69" textLength="96" lengthAdjust="spacingAndGlyphs" class="tu">UV</text>
<rect x="1974" y="685.5" width="69.5" height="210.5" fill="url(#glass2)"/>
<rect x="1974" y="685.5" width="69.5" height="9.200000000000045" fill="#d4d0d4"/>
<rect x="1984" y="753" width="6" height="59" fill="#f4f2f6" opacity="0.8"/>
<rect x="2003.2" y="753" width="5" height="59" fill="#f4f2f6" opacity="0.55"/>
<rect x="2025.5" y="753" width="7" height="59" fill="#f4f2f6" opacity="0.8"/>
<rect x="1979.5" y="812" width="58.0" height="82.5" fill="url(#liqY2)"/>
<rect x="1981" y="815.5" width="55.5" height="7.5" fill="#a8a67c" opacity="0.8"/>
<rect x="1979" y="891" width="59.5" height="3.5" fill="#a4a07a"/>
<rect x="1977.5" y="692.7" width="62.5" height="54.299999999999955" rx="8" ry="8" fill="#141414"/>
<rect x="1994.8" y="698.7" width="27.8" height="40.299999999999955" fill="#2c2c2c" opacity="0.4"/>
<rect x="1984" y="738" width="49.0" height="15" rx="3" fill="#181818"/>
<rect x="1986" y="752" width="44.5" height="3" fill="#8a868a"/>
<rect x="2177" y="690" width="71.5" height="210" fill="#000" stroke="#747474" stroke-width="2.4"/>
<path d="M2184,818.5 V758 Q2184,746 2193,744 H2233 Q2242,746 2242,758 V818.5 Z" fill="url(#topB2)" stroke="#0c6cb0" stroke-width="2.4"/>
<path d="M2191,747.5 H2235" stroke="#1890d8" stroke-width="7" opacity="0.95"/>
<rect x="2183" y="818.5" width="60" height="78.0" fill="url(#liqB)"/>
<rect x="2182" y="817.5" width="62" height="8" fill="#20e4f4"/>
<rect x="2183" y="880.5" width="60" height="8" fill="#1098c8" opacity="0.75"/>
<rect x="2183" y="887.5" width="60" height="8" fill="#24d4f4"/>
<path d="M2052,810.5 H2137 V799 L2165.5,824 L2137,850 V837 H2052 Z" fill="url(#arrC)"/>
<text x="2064" y="778.5" font-size="70" textLength="97" lengthAdjust="spacingAndGlyphs" class="tu">UV</text>
</g>
<text x="1385.5" y="1087.6" font-size="58" text-anchor="middle">400</text>
<text x="1684.3" y="1087.6" font-size="58" text-anchor="middle">500</text>
<text x="1982.0" y="1087.6" font-size="58" text-anchor="middle">600</text>
<text x="2281.5" y="1087.6" font-size="58" text-anchor="middle">700</text>
<text x="1844.5" y="1166.8" font-size="67" text-anchor="middle">Wavelength (nm)</text>
<text transform="translate(1338.7,510.3) rotate(-90)" font-size="67" text-anchor="middle">Intensity</text>
<text x="1233" y="83.2" font-size="84" class="b">(b)</text>
<text x="2026.5" y="139" font-size="58.5">AgGaS<tspan font-size="33" dy="18">2</tspan></text>
<text x="1935.5" y="627" font-size="59">AgGaS<tspan font-size="33" dy="17.5">2</tspan><tspan dy="-17.5">:Zn</tspan></text>
</g>
</svg>
</body>
</html>
